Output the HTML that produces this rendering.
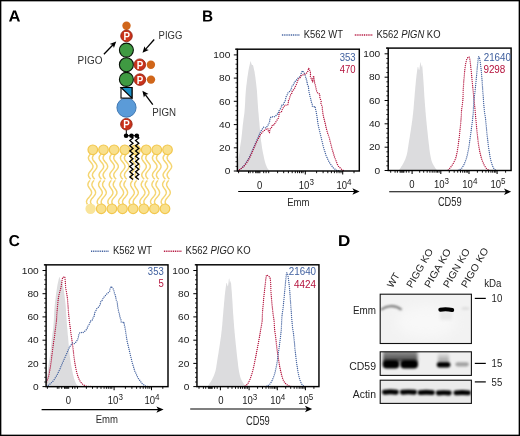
<!DOCTYPE html>
<html><head><meta charset="utf-8"><title>Figure</title>
<style>html,body{margin:0;padding:0;background:#fff;}body{width:520px;height:436px;overflow:hidden;font-family:"Liberation Sans",sans-serif;}svg{display:block;}</style></head>
<body>
<svg width="520" height="436" viewBox="0 0 520 436" font-family="Liberation Sans, sans-serif" style="opacity:0.999">
<rect x="0" y="0" width="520" height="436" fill="#fff"/>
<path transform="translate(8.592 21.6) scale(0.00801 -0.00781)" d="M1133 0 1008 360H471L346 0H51L565 1409H913L1425 0ZM739 1192 733 1170Q723 1134 709.0 1088.0Q695 1042 537 582H942L803 987L760 1123Z" fill="#000"/>
<path transform="translate(202.080 21.6) scale(0.00745 -0.00781)" d="M1386 402Q1386 210 1242.0 105.0Q1098 0 842 0H137V1409H782Q1040 1409 1172.5 1319.5Q1305 1230 1305 1055Q1305 935 1238.5 852.5Q1172 770 1036 741Q1207 721 1296.5 633.5Q1386 546 1386 402ZM1008 1015Q1008 1110 947.5 1150.0Q887 1190 768 1190H432V841H770Q895 841 951.5 884.5Q1008 928 1008 1015ZM1090 425Q1090 623 806 623H432V219H817Q959 219 1024.5 270.5Q1090 322 1090 425Z" fill="#000"/>
<path transform="translate(8.666 246.1) scale(0.00754 -0.00774)" d="M795 212Q1062 212 1166 480L1423 383Q1340 179 1179.5 79.5Q1019 -20 795 -20Q455 -20 269.5 172.5Q84 365 84 711Q84 1058 263.0 1244.0Q442 1430 782 1430Q1030 1430 1186.0 1330.5Q1342 1231 1405 1038L1145 967Q1112 1073 1015.5 1135.5Q919 1198 788 1198Q588 1198 484.5 1074.0Q381 950 381 711Q381 468 487.5 340.0Q594 212 795 212Z" fill="#000"/>
<path transform="translate(337.955 246.1) scale(0.00836 -0.00774)" d="M1393 715Q1393 497 1307.5 334.5Q1222 172 1065.5 86.0Q909 0 707 0H137V1409H647Q1003 1409 1198.0 1229.5Q1393 1050 1393 715ZM1096 715Q1096 942 978.0 1061.5Q860 1181 641 1181H432V228H682Q872 228 984.0 359.0Q1096 490 1096 715Z" fill="#000"/>
<g id="panelA">
<path d="M90.7 153.6 L89.9 154.6 L89.2 155.6 L88.7 156.6 L88.4 157.6 L88.5 158.5 L88.8 159.5 L89.4 160.5 L90.2 161.5 L91.0 162.5 L91.8 163.5 L92.4 164.5 L92.9 165.5 L93.0 166.5 L92.8 167.5 L92.4 168.4 L91.7 169.4 L91.0 170.4 L90.1 171.4 L89.4 172.4 L88.8 173.4 L88.5 174.4 L88.4 175.4 L88.7 176.4 L89.2 177.4 L89.9 178.3 L90.7 179.3" fill="none" stroke="#f5d571" stroke-width="1.45"/>
<path d="M94.7 153.6 L93.9 154.6 L93.2 155.6 L92.7 156.6 L92.4 157.6 L92.5 158.5 L92.8 159.5 L93.4 160.5 L94.2 161.5 L95.0 162.5 L95.8 163.5 L96.4 164.5 L96.9 165.5 L97.0 166.5 L96.8 167.5 L96.4 168.4 L95.7 169.4 L95.0 170.4 L94.1 171.4 L93.4 172.4 L92.8 173.4 L92.5 174.4 L92.4 175.4 L92.7 176.4 L93.2 177.4 L93.9 178.3 L94.7 179.3" fill="none" stroke="#f5d571" stroke-width="1.45"/>
<path d="M90.0 180.4 L89.2 181.4 L88.5 182.4 L88.1 183.4 L87.9 184.4 L88.0 185.4 L88.4 186.4 L88.9 187.4 L89.6 188.4 L90.3 189.4 L91.0 190.4 L91.4 191.4 L91.6 192.4 L91.5 193.4 L91.2 194.4 L90.5 195.4 L89.8 196.4 L88.9 197.4 L88.0 198.4 L87.3 199.4 L86.8 200.4 L86.5 201.4 L86.6 202.4 L86.9 203.4 L87.4 204.4" fill="none" stroke="#f5d571" stroke-width="1.45"/>
<path d="M94.0 180.4 L93.2 181.4 L92.5 182.4 L92.1 183.4 L91.9 184.4 L92.0 185.4 L92.4 186.4 L92.9 187.4 L93.6 188.4 L94.3 189.4 L95.0 190.4 L95.4 191.4 L95.6 192.4 L95.5 193.4 L95.2 194.4 L94.5 195.4 L93.8 196.4 L92.9 197.4 L92.0 198.4 L91.3 199.4 L90.8 200.4 L90.5 201.4 L90.6 202.4 L90.9 203.4 L91.4 204.4" fill="none" stroke="#f5d571" stroke-width="1.45"/>
<path d="M101.4 153.6 L100.6 154.6 L99.8 155.6 L99.3 156.6 L99.1 157.6 L99.1 158.5 L99.5 159.5 L100.1 160.5 L100.8 161.5 L101.7 162.5 L102.5 163.5 L103.1 164.5 L103.5 165.5 L103.7 166.5 L103.5 167.5 L103.1 168.4 L102.4 169.4 L101.6 170.4 L100.8 171.4 L100.0 172.4 L99.5 173.4 L99.1 174.4 L99.1 175.4 L99.4 176.4 L99.9 177.4 L100.6 178.3 L101.4 179.3" fill="none" stroke="#f5d571" stroke-width="1.45"/>
<path d="M105.4 153.6 L104.6 154.6 L103.8 155.6 L103.3 156.6 L103.1 157.6 L103.1 158.5 L103.5 159.5 L104.1 160.5 L104.8 161.5 L105.7 162.5 L106.5 163.5 L107.1 164.5 L107.5 165.5 L107.7 166.5 L107.5 167.5 L107.1 168.4 L106.4 169.4 L105.6 170.4 L104.8 171.4 L104.0 172.4 L103.5 173.4 L103.1 174.4 L103.1 175.4 L103.4 176.4 L103.9 177.4 L104.6 178.3 L105.4 179.3" fill="none" stroke="#f5d571" stroke-width="1.45"/>
<path d="M100.7 180.4 L99.8 181.4 L99.2 182.4 L98.7 183.4 L98.6 184.4 L98.7 185.4 L99.0 186.4 L99.6 187.4 L100.3 188.4 L101.0 189.4 L101.6 190.4 L102.1 191.4 L102.3 192.4 L102.2 193.4 L101.8 194.4 L101.2 195.4 L100.4 196.4 L99.6 197.4 L98.7 198.4 L98.0 199.4 L97.5 200.4 L97.2 201.4 L97.2 202.4 L97.5 203.4 L98.0 204.4" fill="none" stroke="#f5d571" stroke-width="1.45"/>
<path d="M104.7 180.4 L103.8 181.4 L103.2 182.4 L102.7 183.4 L102.6 184.4 L102.7 185.4 L103.0 186.4 L103.6 187.4 L104.3 188.4 L105.0 189.4 L105.6 190.4 L106.1 191.4 L106.3 192.4 L106.2 193.4 L105.8 194.4 L105.2 195.4 L104.4 196.4 L103.6 197.4 L102.7 198.4 L102.0 199.4 L101.5 200.4 L101.2 201.4 L101.2 202.4 L101.5 203.4 L102.0 204.4" fill="none" stroke="#f5d571" stroke-width="1.45"/>
<path d="M112.0 153.6 L111.2 154.6 L110.5 155.6 L110.0 156.6 L109.8 157.6 L109.8 158.5 L110.2 159.5 L110.7 160.5 L111.5 161.5 L112.3 162.5 L113.1 163.5 L113.8 164.5 L114.2 165.5 L114.3 166.5 L114.2 167.5 L113.7 168.4 L113.1 169.4 L112.3 170.4 L111.5 171.4 L110.7 172.4 L110.1 173.4 L109.8 174.4 L109.8 175.4 L110.0 176.4 L110.5 177.4 L111.3 178.3 L112.1 179.3" fill="none" stroke="#f5d571" stroke-width="1.45"/>
<path d="M116.0 153.6 L115.2 154.6 L114.5 155.6 L114.0 156.6 L113.8 157.6 L113.8 158.5 L114.2 159.5 L114.7 160.5 L115.5 161.5 L116.3 162.5 L117.1 163.5 L117.8 164.5 L118.2 165.5 L118.3 166.5 L118.2 167.5 L117.7 168.4 L117.1 169.4 L116.3 170.4 L115.5 171.4 L114.7 172.4 L114.1 173.4 L113.8 174.4 L113.8 175.4 L114.0 176.4 L114.5 177.4 L115.3 178.3 L116.1 179.3" fill="none" stroke="#f5d571" stroke-width="1.45"/>
<path d="M111.3 180.4 L110.5 181.4 L109.8 182.4 L109.4 183.4 L109.2 184.4 L109.3 185.4 L109.7 186.4 L110.3 187.4 L111.0 188.4 L111.7 189.4 L112.3 190.4 L112.8 191.4 L112.9 192.4 L112.9 193.4 L112.5 194.4 L111.9 195.4 L111.1 196.4 L110.2 197.4 L109.4 198.4 L108.6 199.4 L108.1 200.4 L107.9 201.4 L107.9 202.4 L108.2 203.4 L108.7 204.4" fill="none" stroke="#f5d571" stroke-width="1.45"/>
<path d="M115.3 180.4 L114.5 181.4 L113.8 182.4 L113.4 183.4 L113.2 184.4 L113.3 185.4 L113.7 186.4 L114.3 187.4 L115.0 188.4 L115.7 189.4 L116.3 190.4 L116.8 191.4 L116.9 192.4 L116.9 193.4 L116.5 194.4 L115.9 195.4 L115.1 196.4 L114.2 197.4 L113.4 198.4 L112.6 199.4 L112.1 200.4 L111.9 201.4 L111.9 202.4 L112.2 203.4 L112.7 204.4" fill="none" stroke="#f5d571" stroke-width="1.45"/>
<path d="M122.7 153.6 L121.9 154.6 L121.2 155.6 L120.7 156.6 L120.4 157.6 L120.5 158.5 L120.8 159.5 L121.4 160.5 L122.2 161.5 L123.0 162.5 L123.8 163.5 L124.4 164.5 L124.9 165.5 L125.0 166.5 L124.9 167.5 L124.4 168.4 L123.8 169.4 L123.0 170.4 L122.1 171.4 L121.4 172.4 L120.8 173.4 L120.5 174.4 L120.4 175.4 L120.7 176.4 L121.2 177.4 L121.9 178.3 L122.8 179.3" fill="none" stroke="#f5d571" stroke-width="1.45"/>
<path d="M126.7 153.6 L125.9 154.6 L125.2 155.6 L124.7 156.6 L124.4 157.6 L124.5 158.5 L124.8 159.5 L125.4 160.5 L126.2 161.5 L127.0 162.5 L127.8 163.5 L128.4 164.5 L128.9 165.5 L129.0 166.5 L128.9 167.5 L128.4 168.4 L127.8 169.4 L127.0 170.4 L126.1 171.4 L125.4 172.4 L124.8 173.4 L124.5 174.4 L124.4 175.4 L124.7 176.4 L125.2 177.4 L125.9 178.3 L126.8 179.3" fill="none" stroke="#f5d571" stroke-width="1.45"/>
<path d="M122.0 180.4 L121.2 181.4 L120.5 182.4 L120.1 183.4 L119.9 184.4 L120.0 185.4 L120.4 186.4 L121.0 187.4 L121.7 188.4 L122.4 189.4 L123.0 190.4 L123.4 191.4 L123.6 192.4 L123.5 193.4 L123.2 194.4 L122.5 195.4 L121.8 196.4 L120.9 197.4 L120.0 198.4 L119.3 199.4 L118.8 200.4 L118.5 201.4 L118.6 202.4 L118.9 203.4 L119.4 204.4" fill="none" stroke="#f5d571" stroke-width="1.45"/>
<path d="M126.0 180.4 L125.2 181.4 L124.5 182.4 L124.1 183.4 L123.9 184.4 L124.0 185.4 L124.4 186.4 L125.0 187.4 L125.7 188.4 L126.4 189.4 L127.0 190.4 L127.4 191.4 L127.6 192.4 L127.5 193.4 L127.2 194.4 L126.5 195.4 L125.8 196.4 L124.9 197.4 L124.0 198.4 L123.3 199.4 L122.8 200.4 L122.5 201.4 L122.6 202.4 L122.9 203.4 L123.4 204.4" fill="none" stroke="#f5d571" stroke-width="1.45"/>
<path d="M133.4 153.6 L132.6 154.6 L131.9 155.6 L131.3 156.6 L131.1 157.6 L131.1 158.5 L131.5 159.5 L132.1 160.5 L132.8 161.5 L133.7 162.5 L134.5 163.5 L135.1 164.5 L135.5 165.5 L135.7 166.5 L135.5 167.5 L135.1 168.4 L134.4 169.4 L133.6 170.4 L132.8 171.4 L132.0 172.4 L131.5 173.4 L131.1 174.4 L131.1 175.4 L131.4 176.4 L131.9 177.4 L132.6 178.3 L133.4 179.3" fill="none" stroke="#f5d571" stroke-width="1.45"/>
<path d="M137.4 153.6 L136.6 154.6 L135.9 155.6 L135.3 156.6 L135.1 157.6 L135.1 158.5 L135.5 159.5 L136.1 160.5 L136.8 161.5 L137.7 162.5 L138.5 163.5 L139.1 164.5 L139.5 165.5 L139.7 166.5 L139.5 167.5 L139.1 168.4 L138.4 169.4 L137.6 170.4 L136.8 171.4 L136.0 172.4 L135.5 173.4 L135.1 174.4 L135.1 175.4 L135.4 176.4 L135.9 177.4 L136.6 178.3 L137.4 179.3" fill="none" stroke="#f5d571" stroke-width="1.45"/>
<path d="M132.7 180.4 L131.9 181.4 L131.2 182.4 L130.7 183.4 L130.6 184.4 L130.7 185.4 L131.1 186.4 L131.6 187.4 L132.3 188.4 L133.0 189.4 L133.6 190.4 L134.1 191.4 L134.3 192.4 L134.2 193.4 L133.8 194.4 L133.2 195.4 L132.4 196.4 L131.6 197.4 L130.7 198.4 L130.0 199.4 L129.5 200.4 L129.2 201.4 L129.2 202.4 L129.5 203.4 L130.1 204.4" fill="none" stroke="#f5d571" stroke-width="1.45"/>
<path d="M136.7 180.4 L135.9 181.4 L135.2 182.4 L134.7 183.4 L134.6 184.4 L134.7 185.4 L135.1 186.4 L135.6 187.4 L136.3 188.4 L137.0 189.4 L137.6 190.4 L138.1 191.4 L138.3 192.4 L138.2 193.4 L137.8 194.4 L137.2 195.4 L136.4 196.4 L135.6 197.4 L134.7 198.4 L134.0 199.4 L133.5 200.4 L133.2 201.4 L133.2 202.4 L133.5 203.4 L134.1 204.4" fill="none" stroke="#f5d571" stroke-width="1.45"/>
<path d="M144.1 153.6 L143.2 154.6 L142.5 155.6 L142.0 156.6 L141.8 157.6 L141.8 158.5 L142.2 159.5 L142.8 160.5 L143.5 161.5 L144.3 162.5 L145.1 163.5 L145.8 164.5 L146.2 165.5 L146.3 166.5 L146.2 167.5 L145.8 168.4 L145.1 169.4 L144.3 170.4 L143.5 171.4 L142.7 172.4 L142.1 173.4 L141.8 174.4 L141.8 175.4 L142.0 176.4 L142.6 177.4 L143.3 178.3 L144.1 179.3" fill="none" stroke="#f5d571" stroke-width="1.45"/>
<path d="M148.1 153.6 L147.2 154.6 L146.5 155.6 L146.0 156.6 L145.8 157.6 L145.8 158.5 L146.2 159.5 L146.8 160.5 L147.5 161.5 L148.3 162.5 L149.1 163.5 L149.8 164.5 L150.2 165.5 L150.3 166.5 L150.2 167.5 L149.8 168.4 L149.1 169.4 L148.3 170.4 L147.5 171.4 L146.7 172.4 L146.1 173.4 L145.8 174.4 L145.8 175.4 L146.0 176.4 L146.6 177.4 L147.3 178.3 L148.1 179.3" fill="none" stroke="#f5d571" stroke-width="1.45"/>
<path d="M143.4 180.4 L142.5 181.4 L141.9 182.4 L141.4 183.4 L141.2 184.4 L141.3 185.4 L141.7 186.4 L142.3 187.4 L143.0 188.4 L143.7 189.4 L144.3 190.4 L144.8 191.4 L145.0 192.4 L144.9 193.4 L144.5 194.4 L143.9 195.4 L143.1 196.4 L142.2 197.4 L141.4 198.4 L140.7 199.4 L140.1 200.4 L139.9 201.4 L139.9 202.4 L140.2 203.4 L140.7 204.4" fill="none" stroke="#f5d571" stroke-width="1.45"/>
<path d="M147.4 180.4 L146.5 181.4 L145.9 182.4 L145.4 183.4 L145.2 184.4 L145.3 185.4 L145.7 186.4 L146.3 187.4 L147.0 188.4 L147.7 189.4 L148.3 190.4 L148.8 191.4 L149.0 192.4 L148.9 193.4 L148.5 194.4 L147.9 195.4 L147.1 196.4 L146.2 197.4 L145.4 198.4 L144.7 199.4 L144.1 200.4 L143.9 201.4 L143.9 202.4 L144.2 203.4 L144.7 204.4" fill="none" stroke="#f5d571" stroke-width="1.45"/>
<path d="M154.7 153.6 L153.9 154.6 L153.2 155.6 L152.7 156.6 L152.4 157.6 L152.5 158.5 L152.8 159.5 L153.4 160.5 L154.2 161.5 L155.0 162.5 L155.8 163.5 L156.5 164.5 L156.9 165.5 L157.0 166.5 L156.9 167.5 L156.4 168.4 L155.8 169.4 L155.0 170.4 L154.1 171.4 L153.4 172.4 L152.8 173.4 L152.5 174.4 L152.4 175.4 L152.7 176.4 L153.2 177.4 L153.9 178.3 L154.8 179.3" fill="none" stroke="#f5d571" stroke-width="1.45"/>
<path d="M158.7 153.6 L157.9 154.6 L157.2 155.6 L156.7 156.6 L156.4 157.6 L156.5 158.5 L156.8 159.5 L157.4 160.5 L158.2 161.5 L159.0 162.5 L159.8 163.5 L160.5 164.5 L160.9 165.5 L161.0 166.5 L160.9 167.5 L160.4 168.4 L159.8 169.4 L159.0 170.4 L158.1 171.4 L157.4 172.4 L156.8 173.4 L156.5 174.4 L156.4 175.4 L156.7 176.4 L157.2 177.4 L157.9 178.3 L158.8 179.3" fill="none" stroke="#f5d571" stroke-width="1.45"/>
<path d="M154.0 180.4 L153.2 181.4 L152.5 182.4 L152.1 183.4 L151.9 184.4 L152.0 185.4 L152.4 186.4 L153.0 187.4 L153.7 188.4 L154.4 189.4 L155.0 190.4 L155.4 191.4 L155.6 192.4 L155.5 193.4 L155.2 194.4 L154.6 195.4 L153.8 196.4 L152.9 197.4 L152.1 198.4 L151.3 199.4 L150.8 200.4 L150.5 201.4 L150.6 202.4 L150.9 203.4 L151.4 204.4" fill="none" stroke="#f5d571" stroke-width="1.45"/>
<path d="M158.0 180.4 L157.2 181.4 L156.5 182.4 L156.1 183.4 L155.9 184.4 L156.0 185.4 L156.4 186.4 L157.0 187.4 L157.7 188.4 L158.4 189.4 L159.0 190.4 L159.4 191.4 L159.6 192.4 L159.5 193.4 L159.2 194.4 L158.6 195.4 L157.8 196.4 L156.9 197.4 L156.1 198.4 L155.3 199.4 L154.8 200.4 L154.5 201.4 L154.6 202.4 L154.9 203.4 L155.4 204.4" fill="none" stroke="#f5d571" stroke-width="1.45"/>
<path d="M165.4 153.6 L164.6 154.6 L163.9 155.6 L163.4 156.6 L163.1 157.6 L163.2 158.5 L163.5 159.5 L164.1 160.5 L164.9 161.5 L165.7 162.5 L166.5 163.5 L167.1 164.5 L167.5 165.5 L167.7 166.5 L167.5 167.5 L167.1 168.4 L166.4 169.4 L165.6 170.4 L164.8 171.4 L164.1 172.4 L163.5 173.4 L163.1 174.4 L163.1 175.4 L163.4 176.4 L163.9 177.4 L164.6 178.3 L165.4 179.3" fill="none" stroke="#f5d571" stroke-width="1.45"/>
<path d="M169.4 153.6 L168.6 154.6 L167.9 155.6 L167.4 156.6 L167.1 157.6 L167.2 158.5 L167.5 159.5 L168.1 160.5 L168.9 161.5 L169.7 162.5 L170.5 163.5 L171.1 164.5 L171.5 165.5 L171.7 166.5 L171.5 167.5 L171.1 168.4 L170.4 169.4 L169.6 170.4 L168.8 171.4 L168.1 172.4 L167.5 173.4 L167.1 174.4 L167.1 175.4 L167.4 176.4 L167.9 177.4 L168.6 178.3 L169.4 179.3" fill="none" stroke="#f5d571" stroke-width="1.45"/>
<path d="M164.7 180.4 L163.9 181.4 L163.2 182.4 L162.7 183.4 L162.6 184.4 L162.7 185.4 L163.1 186.4 L163.6 187.4 L164.3 188.4 L165.0 189.4 L165.7 190.4 L166.1 191.4 L166.3 192.4 L166.2 193.4 L165.8 194.4 L165.2 195.4 L164.4 196.4 L163.6 197.4 L162.7 198.4 L162.0 199.4 L161.5 200.4 L161.2 201.4 L161.2 202.4 L161.5 203.4 L162.1 204.4" fill="none" stroke="#f5d571" stroke-width="1.45"/>
<path d="M168.7 180.4 L167.9 181.4 L167.2 182.4 L166.7 183.4 L166.6 184.4 L166.7 185.4 L167.1 186.4 L167.6 187.4 L168.3 188.4 L169.0 189.4 L169.7 190.4 L170.1 191.4 L170.3 192.4 L170.2 193.4 L169.8 194.4 L169.2 195.4 L168.4 196.4 L167.6 197.4 L166.7 198.4 L166.0 199.4 L165.5 200.4 L165.2 201.4 L165.2 202.4 L165.5 203.4 L166.1 204.4" fill="none" stroke="#f5d571" stroke-width="1.45"/>
<circle cx="92.8" cy="149.8" r="4.8" fill="#f9e08c" stroke="#f2c74e" stroke-width="1.2"/>
<circle cx="103.5" cy="149.8" r="4.8" fill="#f9e08c" stroke="#f2c74e" stroke-width="1.2"/>
<circle cx="114.1" cy="149.8" r="4.8" fill="#f9e08c" stroke="#f2c74e" stroke-width="1.2"/>
<circle cx="124.8" cy="149.8" r="4.8" fill="#f9e08c" stroke="#f2c74e" stroke-width="1.2"/>
<circle cx="135.5" cy="149.8" r="4.8" fill="#f9e08c" stroke="#f2c74e" stroke-width="1.2"/>
<circle cx="146.2" cy="149.8" r="4.8" fill="#f9e08c" stroke="#f2c74e" stroke-width="1.2"/>
<circle cx="156.8" cy="149.8" r="4.8" fill="#f9e08c" stroke="#f2c74e" stroke-width="1.2"/>
<circle cx="167.5" cy="149.8" r="4.8" fill="#f9e08c" stroke="#f2c74e" stroke-width="1.2"/>
<circle cx="90.6" cy="208.8" r="5.2" fill="#f9e49a"/>
<circle cx="101.2" cy="208.8" r="4.8" fill="#f9e08c" stroke="#f2c74e" stroke-width="1.2"/>
<circle cx="111.9" cy="208.8" r="4.8" fill="#f9e08c" stroke="#f2c74e" stroke-width="1.2"/>
<circle cx="122.5" cy="208.8" r="4.8" fill="#f9e08c" stroke="#f2c74e" stroke-width="1.2"/>
<circle cx="133.1" cy="208.8" r="4.8" fill="#f9e08c" stroke="#f2c74e" stroke-width="1.2"/>
<circle cx="143.8" cy="208.8" r="4.8" fill="#f9e08c" stroke="#f2c74e" stroke-width="1.2"/>
<circle cx="154.4" cy="208.8" r="4.8" fill="#f9e08c" stroke="#f2c74e" stroke-width="1.2"/>
<circle cx="165.0" cy="208.8" r="4.8" fill="#f9e08c" stroke="#f2c74e" stroke-width="1.2"/>
<path d="M126.3 129 V135.7 H136.8" fill="none" stroke="#000" stroke-width="1"/>
<path d="M131.4 136.0 L133.0 138.0 L129.8 140.6 L133.0 143.2 L129.8 145.8 L133.0 148.4 L129.8 151.0 L133.0 153.6 L129.8 156.2 L133.0 158.8 L129.8 161.4 L133.0 164.0 L129.8 166.6 L133.0 169.2 L129.8 171.8 L133.0 174.4 L129.8 177.0 L133.0 179.6" fill="none" stroke="#000" stroke-width="1.3" stroke-linejoin="miter"/>
<path d="M137.2 136.0 L138.8 138.0 L135.6 140.6 L138.8 143.2 L135.6 145.8 L138.8 148.4 L135.6 151.0 L138.8 153.6 L135.6 156.2 L138.8 158.8 L135.6 161.4 L138.8 164.0 L135.6 166.6 L138.8 169.2 L135.6 171.8 L138.8 174.4 L135.6 177.0 L138.8 179.6" fill="none" stroke="#000" stroke-width="1.3" stroke-linejoin="miter"/>
<circle cx="126.1" cy="135.7" r="2.3" fill="#000"/>
<circle cx="131.5" cy="135.7" r="2.3" fill="#000"/>
<circle cx="136.8" cy="135.7" r="2.3" fill="#000"/>
<circle cx="126.5" cy="25.8" r="4.2" fill="#d0661a"/>
<circle cx="126.5" cy="107.6" r="9.6" fill="#5b9bd8" stroke="#3a72ad" stroke-width="0.9"/>
<circle cx="126.4" cy="124.2" r="5.8" fill="#c9321b" stroke="#8e1f10" stroke-width="0.8"/>
<text x="123.3" y="128.2" font-size="10.8" font-weight="bold" fill="#fff" textLength="6.5" lengthAdjust="spacingAndGlyphs">P</text>
<rect x="121" y="87.5" width="11" height="10.6" fill="#fff" stroke="#000" stroke-width="1.1"/>
<path d="M121 87.5 H132 V98.1 Z" fill="#1b8fc6" stroke="#000" stroke-width="1.1" stroke-linejoin="miter"/>
<circle cx="126.4" cy="79.4" r="7" fill="#3f9a42" stroke="#0a140a" stroke-width="1.1"/>
<circle cx="126.4" cy="64.7" r="7" fill="#3f9a42" stroke="#0a140a" stroke-width="1.1"/>
<circle cx="126.4" cy="50.1" r="7" fill="#3f9a42" stroke="#0a140a" stroke-width="1.1"/>
<circle cx="126.5" cy="35.9" r="5.8" fill="#c9321b" stroke="#8e1f10" stroke-width="0.8"/>
<text x="123.4" y="39.9" font-size="10.8" font-weight="bold" fill="#fff" textLength="6.5" lengthAdjust="spacingAndGlyphs">P</text>
<circle cx="139.8" cy="64.7" r="5.8" fill="#c9321b" stroke="#8e1f10" stroke-width="0.8"/>
<text x="136.7" y="68.7" font-size="10.8" font-weight="bold" fill="#fff" textLength="6.5" lengthAdjust="spacingAndGlyphs">P</text>
<circle cx="139.9" cy="79.6" r="5.8" fill="#c9321b" stroke="#8e1f10" stroke-width="0.8"/>
<text x="136.8" y="83.6" font-size="10.8" font-weight="bold" fill="#fff" textLength="6.5" lengthAdjust="spacingAndGlyphs">P</text>
<circle cx="150.9" cy="64.7" r="4.2" fill="#d0661a"/>
<circle cx="151" cy="79.6" r="4.2" fill="#d0661a"/>
<path d="M103.9 54.3 L112.8 45.0" stroke="#000" stroke-width="1.3" fill="none"/>
<path d="M116.2 41.5 L113.9 48.1 L112.8 45.0 L109.7 44.0 Z" fill="#000"/>
<path d="M154.2 39.5 L145.7 49.1" stroke="#000" stroke-width="1.3" fill="none"/>
<path d="M142.5 52.8 L144.5 46.2 L145.7 49.1 L148.8 50.0 Z" fill="#000"/>
<path d="M152.8 104.6 L145.3 94.7" stroke="#000" stroke-width="1.3" fill="none"/>
<path d="M142.4 90.8 L148.5 94.1 L145.3 94.7 L143.9 97.6 Z" fill="#000"/>
<text x="77.6" y="63.8" font-size="10.3" fill="#333" textLength="24.9" lengthAdjust="spacingAndGlyphs">PIGO</text>
<text x="158.6" y="38.8" font-size="10.3" fill="#333" textLength="23.8" lengthAdjust="spacingAndGlyphs">PIGG</text>
<text x="152.3" y="116.1" font-size="10.3" fill="#333" textLength="23.8" lengthAdjust="spacingAndGlyphs">PIGN</text>
</g>
<g id="Bleft">
<polygon points="237.5,170.8 237.5,170.4 237.6,169.7 237.6,169.0 237.7,168.2 237.7,167.4 237.8,166.5 237.9,165.6 238.0,164.7 238.1,163.7 238.2,162.6 238.3,161.6 238.4,160.5 238.5,159.4 238.6,158.3 238.8,157.1 238.9,155.9 239.0,154.7 239.2,153.5 239.4,152.2 239.5,150.9 239.7,149.6 239.9,148.2 240.1,146.8 240.3,145.5 240.5,144.2 240.7,143.1 240.9,141.9 241.1,140.6 241.3,139.2 241.5,137.5 241.7,135.5 242.0,133.2 242.2,130.8 242.5,128.3 242.7,125.8 243.0,123.5 243.3,121.3 243.5,119.3 243.8,117.2 244.1,115.2 244.4,112.9 244.6,110.5 244.8,107.7 245.0,104.6 245.2,101.4 245.3,98.2 245.5,95.2 245.7,92.5 245.9,90.1 246.1,87.9 246.3,85.9 246.6,84.1 246.8,82.3 247.0,80.5 247.2,78.8 247.4,77.2 247.7,75.6 247.9,74.2 248.1,72.8 248.3,71.5 248.5,70.3 248.7,69.2 248.9,68.2 249.1,67.2 249.3,66.3 249.5,65.5 249.7,64.7 249.8,64.0 250.0,63.4 250.1,62.9 250.2,62.4 250.3,62.0 250.4,61.7 250.5,61.5 250.5,61.3 250.6,61.2 250.6,61.2 250.7,61.3 250.8,61.5 250.9,61.8 251.0,62.3 251.1,62.7 251.2,63.1 251.3,63.5 251.4,63.8 251.5,64.1 251.6,64.4 251.8,64.6 251.9,64.8 252.0,65.0 252.1,65.1 252.3,65.0 252.4,64.9 252.5,64.9 252.7,64.9 252.8,65.0 252.9,65.2 253.0,65.4 253.2,65.8 253.3,66.2 253.4,66.7 253.6,67.5 253.8,68.4 254.0,69.5 254.3,70.7 254.6,72.1 254.8,73.7 255.1,75.5 255.4,77.6 255.7,79.9 256.0,82.4 256.3,85.0 256.6,87.7 256.9,90.5 257.1,93.3 257.3,96.4 257.5,99.4 257.7,102.5 257.9,105.6 258.1,108.5 258.3,111.3 258.6,114.1 258.8,116.8 259.0,119.5 259.3,122.0 259.5,124.5 259.7,126.9 259.9,129.2 260.1,131.4 260.3,133.5 260.5,135.5 260.7,137.5 260.9,139.4 261.1,141.2 261.4,142.9 261.6,144.6 261.8,146.1 262.0,147.5 262.2,148.7 262.4,149.7 262.5,150.6 262.7,151.5 262.9,152.4 263.1,153.5 263.4,154.8 263.7,156.3 264.0,157.8 264.3,159.3 264.7,160.7 265.0,162.0 265.3,163.1 265.7,164.2 266.0,165.1 266.4,166.0 266.7,166.8 267.0,167.5 267.3,168.1 267.6,168.6 267.9,168.9 268.1,169.2 268.4,169.5 268.7,169.8 269.0,170.1 269.4,170.3 269.7,170.4 270.0,170.6 270.3,170.7 270.5,170.8" fill="#dcdcde"/>
<polyline points="237.8,170.7 239.4,169.7 241.0,168.6 242.1,167.5 243.3,166.3 244.4,165.2 245.3,163.8 246.3,162.3 247.2,160.8 248.2,159.4 248.9,158.0 249.6,156.5 250.3,155.0 251.0,153.6 251.6,152.2 252.2,150.8 252.8,149.3 253.4,147.9 254.0,146.5 254.7,145.1 255.3,143.7 255.9,142.3 256.6,140.7 257.3,139.2 258.0,137.6 258.6,136.2 259.0,134.9 259.9,133.5 260.7,131.1 262.0,129.9 262.6,128.7 263.5,127.2 265.8,128.0 267.5,125.9 268.8,123.9 269.4,121.6 269.8,120.9 269.7,119.8 270.6,117.4 272.0,116.6 273.5,117.2 275.1,116.4 276.8,114.6 278.3,113.2 278.7,111.1 279.6,109.9 280.7,108.3 281.2,106.9 281.4,105.4 283.2,105.0 284.1,102.7 284.6,101.6 285.2,100.7 285.6,98.9 286.0,96.9 287.0,95.2 287.9,93.0 288.4,92.4 290.3,91.0 291.2,89.4 291.6,87.4 292.3,85.2 293.5,84.7 294.5,81.9 296.0,80.8 296.7,79.7 298.3,77.9 299.9,76.6 300.8,75.7 301.2,73.4 302.4,70.7 303.6,72.2 304.7,73.8 305.4,76.0 305.6,77.3 306.2,78.2 306.5,80.8 307.4,81.1 307.0,83.1 307.8,85.4 308.6,86.8 308.6,88.2 308.8,89.9 308.9,91.8 309.4,93.2 309.8,95.5 310.2,97.1 310.7,98.7 310.9,98.8 311.0,100.9 311.9,103.5 312.4,104.6 312.4,106.2 313.6,106.9 315.0,106.2 315.3,107.8 315.6,109.3 316.0,110.9 316.3,112.4 316.6,114.2 316.9,115.9 317.1,117.7 317.4,119.4 317.6,121.0 317.9,122.7 318.1,124.3 318.4,125.9 318.8,127.6 319.2,129.2 319.6,130.9 320.0,132.6 320.4,134.2 320.8,135.9 321.2,137.5 321.5,139.0 321.9,140.6 322.3,142.1 322.7,143.7 323.0,145.2 323.4,146.8 323.9,148.5 324.4,150.2 325.0,152.0 325.5,153.7 326.0,155.4 326.7,156.8 327.4,158.3 328.0,159.7 328.7,161.2 329.4,162.6 330.5,164.0 331.5,165.5 332.6,166.9 333.7,168.3 335.4,169.5 337.1,170.6 338.8,170.7 340.4,170.8" fill="none" stroke="#40609f" stroke-width="1.35" stroke-dasharray="0.01 2.05" stroke-linecap="round" stroke-linejoin="round"/>
<polyline points="237.8,170.7 239.7,169.6 241.5,168.4 242.7,167.3 243.8,166.3 245.0,165.2 245.9,163.9 246.8,162.6 247.7,161.2 248.6,159.9 249.3,158.4 250.1,156.9 250.8,155.4 251.5,153.9 252.1,152.4 252.8,150.9 253.4,149.4 254.0,147.9 254.6,146.5 255.2,145.2 255.8,143.8 256.4,142.4 257.4,140.4 258.4,138.4 259.9,135.9 260.9,133.7 262.3,132.7 263.5,130.9 264.5,130.3 265.5,129.5 267.9,128.7 268.2,130.7 269.5,132.7 269.6,131.0 270.2,128.8 271.2,128.5 271.9,126.3 272.6,124.7 274.2,125.0 275.1,123.1 276.2,121.3 277.7,119.0 278.3,118.2 279.0,115.9 279.0,114.4 279.9,112.4 281.5,111.8 282.2,109.6 282.8,108.8 283.5,107.1 284.6,105.6 286.4,105.0 287.8,104.8 288.3,102.4 288.1,101.1 289.2,99.9 289.4,98.4 289.8,97.0 290.6,94.8 291.6,94.0 291.9,92.0 292.7,90.5 294.1,89.4 295.1,87.1 295.9,85.3 296.8,83.6 296.8,83.4 297.5,81.5 297.9,80.1 298.6,79.0 300.2,77.4 300.7,75.9 303.1,74.8 304.7,74.3 307.1,72.7 307.8,71.3 308.3,69.4 308.7,67.9 309.9,70.7 310.3,71.9 310.5,74.0 310.2,75.9 311.1,78.2 311.1,79.1 312.2,80.3 312.7,82.3 312.9,81.0 312.8,79.0 313.3,76.8 314.0,75.9 313.7,78.0 314.0,78.6 314.5,81.4 314.4,82.2 315.1,83.9 315.6,86.4 316.2,88.2 316.1,89.2 316.7,91.2 317.7,93.1 319.1,93.6 320.0,94.6 319.6,96.3 320.1,98.4 320.8,100.0 321.2,101.2 320.8,103.1 321.5,104.9 322.4,106.7 322.1,108.0 322.4,109.6 322.7,111.5 322.9,113.5 323.2,115.4 323.6,116.9 324.0,118.4 324.3,119.8 324.7,121.3 325.1,122.8 325.4,124.3 325.8,125.9 326.1,127.4 326.5,129.0 326.8,130.5 327.3,132.0 327.8,133.6 328.4,135.1 328.9,136.7 329.4,138.2 329.8,139.7 330.1,141.2 330.5,142.7 330.9,144.1 331.3,145.6 331.6,147.1 332.0,148.6 332.5,150.3 333.0,152.0 333.6,153.8 334.1,155.5 334.6,157.2 335.2,158.6 335.7,160.1 336.3,161.5 336.9,162.9 337.4,164.4 338.0,165.8 339.1,166.9 340.3,168.1 341.4,169.2 343.7,170.7" fill="none" stroke="#b4123c" stroke-width="1.35" stroke-dasharray="0.01 2.05" stroke-linecap="round" stroke-linejoin="round"/>
<rect x="237.4" y="49.2" width="121.9" height="121.8" fill="none" stroke="#000" stroke-width="1.45"/>
<path d="M235.2 49.2 H237.4" stroke="#000" stroke-width="1.45"/>
<path d="M233.8 171.0 H237.4" stroke="#000" stroke-width="1"/>
<text x="224.65" y="174.30" font-size="9.8" fill="#1a1a1a" textLength="5.65" lengthAdjust="spacingAndGlyphs">0</text>
<path d="M235.5 166.4 H237.4" stroke="#000" stroke-width="0.8"/>
<path d="M235.5 161.7 H237.4" stroke="#000" stroke-width="0.8"/>
<path d="M235.5 157.1 H237.4" stroke="#000" stroke-width="0.8"/>
<path d="M235.5 152.4 H237.4" stroke="#000" stroke-width="0.8"/>
<path d="M233.8 147.8 H237.4" stroke="#000" stroke-width="1"/>
<text x="219.00" y="151.08" font-size="9.8" fill="#1a1a1a" textLength="11.30" lengthAdjust="spacingAndGlyphs">20</text>
<path d="M235.5 143.1 H237.4" stroke="#000" stroke-width="0.8"/>
<path d="M235.5 138.5 H237.4" stroke="#000" stroke-width="0.8"/>
<path d="M235.5 133.8 H237.4" stroke="#000" stroke-width="0.8"/>
<path d="M235.5 129.2 H237.4" stroke="#000" stroke-width="0.8"/>
<path d="M233.8 124.6 H237.4" stroke="#000" stroke-width="1"/>
<text x="219.00" y="127.86" font-size="9.8" fill="#1a1a1a" textLength="11.30" lengthAdjust="spacingAndGlyphs">40</text>
<path d="M235.5 119.9 H237.4" stroke="#000" stroke-width="0.8"/>
<path d="M235.5 115.3 H237.4" stroke="#000" stroke-width="0.8"/>
<path d="M235.5 110.6 H237.4" stroke="#000" stroke-width="0.8"/>
<path d="M235.5 106.0 H237.4" stroke="#000" stroke-width="0.8"/>
<path d="M233.8 101.3 H237.4" stroke="#000" stroke-width="1"/>
<text x="219.00" y="104.64" font-size="9.8" fill="#1a1a1a" textLength="11.30" lengthAdjust="spacingAndGlyphs">60</text>
<path d="M235.5 96.7 H237.4" stroke="#000" stroke-width="0.8"/>
<path d="M235.5 92.1 H237.4" stroke="#000" stroke-width="0.8"/>
<path d="M235.5 87.4 H237.4" stroke="#000" stroke-width="0.8"/>
<path d="M235.5 82.8 H237.4" stroke="#000" stroke-width="0.8"/>
<path d="M233.8 78.1 H237.4" stroke="#000" stroke-width="1"/>
<text x="219.00" y="81.42" font-size="9.8" fill="#1a1a1a" textLength="11.30" lengthAdjust="spacingAndGlyphs">80</text>
<path d="M235.5 73.5 H237.4" stroke="#000" stroke-width="0.8"/>
<path d="M235.5 68.8 H237.4" stroke="#000" stroke-width="0.8"/>
<path d="M235.5 64.2 H237.4" stroke="#000" stroke-width="0.8"/>
<path d="M235.5 59.5 H237.4" stroke="#000" stroke-width="0.8"/>
<path d="M233.8 54.9 H237.4" stroke="#000" stroke-width="1"/>
<text x="213.35" y="58.20" font-size="9.8" fill="#1a1a1a" textLength="16.95" lengthAdjust="spacingAndGlyphs">100</text>
<path d="M305.3 171.0 V174.6" stroke="#000" stroke-width="1.05"/>
<path d="M342.7 171.0 V174.6" stroke="#000" stroke-width="1.05"/>
<path d="M238.6 171.0 V173.2" stroke="#000" stroke-width="0.95"/>
<path d="M248.5 171.0 V173.2" stroke="#000" stroke-width="0.95"/>
<path d="M250.1 171.0 V173.2" stroke="#000" stroke-width="0.95"/>
<path d="M252.9 171.0 V173.2" stroke="#000" stroke-width="0.95"/>
<path d="M255.7 171.0 V173.2" stroke="#000" stroke-width="0.95"/>
<path d="M256.9 171.0 V173.2" stroke="#000" stroke-width="0.95"/>
<path d="M257.9 171.0 V173.2" stroke="#000" stroke-width="0.95"/>
<path d="M258.9 171.0 V173.2" stroke="#000" stroke-width="0.95"/>
<path d="M259.9 171.0 V173.2" stroke="#000" stroke-width="0.95"/>
<path d="M263.7 171.0 V173.2" stroke="#000" stroke-width="0.95"/>
<path d="M266.1 171.0 V173.2" stroke="#000" stroke-width="0.95"/>
<path d="M268.7 171.0 V173.2" stroke="#000" stroke-width="0.95"/>
<path d="M277.6 171.0 V173.2" stroke="#000" stroke-width="0.95"/>
<path d="M283.7 171.0 V173.2" stroke="#000" stroke-width="0.95"/>
<path d="M288.4 171.0 V173.2" stroke="#000" stroke-width="0.95"/>
<path d="M292.2 171.0 V173.2" stroke="#000" stroke-width="0.95"/>
<path d="M295.3 171.0 V173.2" stroke="#000" stroke-width="0.95"/>
<path d="M297.6 171.0 V173.2" stroke="#000" stroke-width="0.95"/>
<path d="M299.5 171.0 V173.2" stroke="#000" stroke-width="0.95"/>
<path d="M301.4 171.0 V173.2" stroke="#000" stroke-width="0.95"/>
<path d="M303.0 171.0 V173.2" stroke="#000" stroke-width="0.95"/>
<path d="M316.6 171.0 V173.2" stroke="#000" stroke-width="0.95"/>
<path d="M323.1 171.0 V173.2" stroke="#000" stroke-width="0.95"/>
<path d="M327.8 171.0 V173.2" stroke="#000" stroke-width="0.95"/>
<path d="M331.4 171.0 V173.2" stroke="#000" stroke-width="0.95"/>
<path d="M334.4 171.0 V173.2" stroke="#000" stroke-width="0.95"/>
<path d="M336.9 171.0 V173.2" stroke="#000" stroke-width="0.95"/>
<path d="M339.1 171.0 V173.2" stroke="#000" stroke-width="0.95"/>
<path d="M341.0 171.0 V173.2" stroke="#000" stroke-width="0.95"/>
<path d="M354.0 171.0 V173.2" stroke="#000" stroke-width="0.95"/>
<text x="256.95" y="188.50" font-size="10.4" fill="#1a1a1a" textLength="5.30" lengthAdjust="spacingAndGlyphs">0</text>
<text x="298.80" y="188.50" font-size="10.4" fill="#1a1a1a" textLength="10.60" lengthAdjust="spacingAndGlyphs">10</text>
<text x="309.40" y="184.80" font-size="8.3" fill="#1a1a1a" textLength="4.50" lengthAdjust="spacingAndGlyphs">3</text>
<text x="336.50" y="188.50" font-size="10.4" fill="#1a1a1a" textLength="10.60" lengthAdjust="spacingAndGlyphs">10</text>
<text x="347.10" y="184.80" font-size="8.3" fill="#1a1a1a" textLength="4.50" lengthAdjust="spacingAndGlyphs">4</text>
<path d="M238.2 191.5 H356.6" stroke="#000" stroke-width="1.1"/>
<path d="M359.6 191.5 L352.4 188.3 L354.2 191.5 L352.4 194.7 Z" fill="#000"/>
<text x="287.2" y="205.8" font-size="11.6" fill="#2a2a2a" textLength="22.3" lengthAdjust="spacingAndGlyphs">Emm</text>
<text x="339.67" y="60.70" font-size="10.5" fill="#40609f" textLength="15.90" lengthAdjust="spacingAndGlyphs">353</text>
<text x="339.67" y="73.30" font-size="10.5" fill="#b4123c" textLength="15.90" lengthAdjust="spacingAndGlyphs">470</text>
</g>
<g id="Bright">
<polygon points="398.0,170.3 398.1,170.3 398.3,170.3 398.4,170.3 398.7,170.1 399.0,169.9 399.4,169.4 399.9,168.7 400.6,167.7 401.3,166.6 402.1,165.5 402.8,164.2 403.5,163.0 404.1,161.8 404.7,160.6 405.2,159.4 405.7,158.1 406.2,156.6 406.7,155.0 407.1,153.2 407.5,151.2 407.8,149.1 408.2,146.8 408.5,144.5 408.9,142.1 409.3,139.5 409.8,136.7 410.2,133.7 410.7,130.9 411.1,128.3 411.4,126.1 411.7,124.4 411.8,123.1 412.0,122.1 412.1,121.2 412.3,120.2 412.4,119.0 412.6,117.6 412.7,116.2 412.9,114.8 413.1,113.3 413.2,111.7 413.4,110.0 413.6,108.2 413.7,106.4 413.9,104.5 414.0,102.6 414.2,100.4 414.4,98.2 414.6,95.7 414.8,93.0 415.1,90.2 415.3,87.3 415.6,84.6 415.8,82.1 416.0,79.7 416.3,77.4 416.5,75.2 416.8,73.2 417.0,71.5 417.2,70.0 417.4,68.9 417.5,68.0 417.6,67.4 417.7,67.1 417.9,66.9 418.0,66.8 418.2,67.1 418.4,67.8 418.6,68.7 418.8,69.5 419.0,70.0 419.2,70.0 419.4,69.2 419.6,67.7 419.8,66.0 420.0,64.3 420.2,62.9 420.4,62.2 420.6,62.3 420.7,63.1 420.9,64.2 421.0,65.4 421.2,66.4 421.3,67.0 421.4,66.9 421.6,66.3 421.7,65.5 421.9,64.9 422.0,64.8 422.2,65.5 422.4,67.2 422.6,69.7 422.8,72.7 423.1,75.9 423.3,79.2 423.5,82.1 423.7,84.9 423.9,87.7 424.0,90.5 424.2,93.2 424.3,95.8 424.5,98.2 424.7,100.4 424.8,102.6 425.0,104.5 425.1,106.4 425.3,108.2 425.4,110.0 425.5,111.7 425.7,113.3 425.8,114.8 425.9,116.2 426.1,117.6 426.2,119.0 426.3,120.2 426.4,121.2 426.5,122.1 426.6,123.1 426.7,124.4 426.9,126.1 427.1,128.3 427.4,130.9 427.7,133.7 428.0,136.7 428.3,139.5 428.6,142.1 428.9,144.5 429.2,146.8 429.4,149.0 429.7,151.2 430.0,153.2 430.3,155.0 430.6,156.6 430.9,158.1 431.2,159.4 431.5,160.6 431.9,161.8 432.4,163.0 433.0,164.2 433.7,165.5 434.4,166.6 435.1,167.7 435.8,168.7 436.4,169.4 436.9,169.9 437.3,170.1 437.7,170.3 438.0,170.3 438.3,170.3 438.5,170.3" fill="#dcdcde"/>
<polyline points="448.3,169.9 449.1,169.0 450.3,167.6 451.6,166.0 452.8,164.2 453.8,162.4 454.8,160.4 455.7,158.0 456.5,155.0 457.3,151.1 458.0,146.4 458.7,141.5 459.3,136.7 459.8,131.9 460.3,126.9 460.8,122.3 461.1,118.3 461.3,115.3 461.4,113.1 461.5,111.1 461.7,109.0 462.0,106.8 462.3,104.7 462.6,102.4 462.9,100.0 463.0,97.4 463.1,94.7 463.1,91.7 463.3,88.2 463.6,83.7 464.0,78.4 464.5,73.2 464.9,68.9 465.3,65.8 465.7,63.4 466.1,61.6 466.5,60.1 466.8,59.0 467.1,58.5 467.4,58.1 467.7,57.8 468.0,57.4 468.3,57.1 468.6,56.9 468.9,56.9 469.1,57.0 469.3,57.3 469.5,57.8 469.7,58.5 469.9,59.4 470.1,60.4 470.2,61.9 470.5,64.1 470.8,67.4 471.3,71.5 471.7,75.9 472.1,80.2 472.5,84.3 472.9,88.4 473.3,92.4 473.7,96.2 474.1,99.7 474.4,103.0 474.7,106.1 475.0,109.0 475.2,111.4 475.4,113.3 475.5,115.4 475.8,118.3 476.2,122.4 476.6,127.3 477.1,132.3 477.6,136.7 478.0,140.3 478.4,143.6 478.9,146.6 479.4,149.5 480.0,152.5 480.7,155.3 481.4,158.0 482.2,160.5 483.1,162.7 484.0,164.7 485.0,166.5 485.9,167.9 486.9,168.9 487.9,169.6 488.9,170.0 489.5,170.3" fill="none" stroke="#b4123c" stroke-width="1.35" stroke-dasharray="0.01 2.05" stroke-linecap="round" stroke-linejoin="round"/>
<polyline points="458.3,170.3 459.0,170.0 459.9,169.6 461.0,168.9 462.0,167.9 462.9,166.5 463.9,164.7 464.8,162.7 465.7,160.5 466.5,158.0 467.2,155.3 467.8,152.5 468.4,149.5 468.9,146.6 469.4,143.6 469.8,140.3 470.3,136.7 470.9,132.3 471.6,127.3 472.2,122.4 472.7,118.3 473.0,115.3 473.2,113.1 473.3,111.1 473.4,109.0 473.5,106.7 473.6,104.5 473.7,102.2 473.9,100.0 474.1,98.0 474.4,96.1 474.7,94.1 475.0,91.4 475.4,87.8 475.8,83.6 476.2,79.3 476.6,75.3 476.9,71.7 477.2,68.2 477.5,65.1 477.8,62.5 478.0,60.4 478.2,58.8 478.4,57.6 478.6,56.9 478.9,56.7 479.2,56.9 479.5,57.8 479.8,59.3 480.2,61.7 480.6,64.8 481.0,68.4 481.4,72.1 481.7,75.8 482.0,79.6 482.3,83.8 482.6,88.2 483.0,93.3 483.4,99.0 483.8,104.5 484.2,109.0 484.5,111.9 484.8,113.8 485.1,115.6 485.5,118.3 485.9,122.3 486.4,127.2 486.8,132.1 487.3,136.7 487.8,140.7 488.2,144.5 488.7,148.1 489.2,151.4 489.7,154.5 490.2,157.4 490.8,160.1 491.4,162.4 492.0,164.4 492.7,166.2 493.4,167.7 494.1,168.8 494.9,169.6 495.7,170.0 496.4,170.1 496.9,170.3" fill="none" stroke="#40609f" stroke-width="1.35" stroke-dasharray="0.01 2.05" stroke-linecap="round" stroke-linejoin="round"/>
<rect x="388.2" y="48.1" width="122.9" height="122.4" fill="none" stroke="#000" stroke-width="1.45"/>
<path d="M386.0 48.1 H388.2" stroke="#000" stroke-width="1.45"/>
<path d="M384.6 170.5 H388.2" stroke="#000" stroke-width="1"/>
<text x="374.55" y="173.80" font-size="9.8" fill="#1a1a1a" textLength="5.65" lengthAdjust="spacingAndGlyphs">0</text>
<path d="M386.3 165.8 H388.2" stroke="#000" stroke-width="0.8"/>
<path d="M386.3 161.2 H388.2" stroke="#000" stroke-width="0.8"/>
<path d="M386.3 156.5 H388.2" stroke="#000" stroke-width="0.8"/>
<path d="M386.3 151.8 H388.2" stroke="#000" stroke-width="0.8"/>
<path d="M384.6 147.2 H388.2" stroke="#000" stroke-width="1"/>
<text x="368.90" y="150.47" font-size="9.8" fill="#1a1a1a" textLength="11.30" lengthAdjust="spacingAndGlyphs">20</text>
<path d="M386.3 142.5 H388.2" stroke="#000" stroke-width="0.8"/>
<path d="M386.3 137.8 H388.2" stroke="#000" stroke-width="0.8"/>
<path d="M386.3 133.2 H388.2" stroke="#000" stroke-width="0.8"/>
<path d="M386.3 128.5 H388.2" stroke="#000" stroke-width="0.8"/>
<path d="M384.6 123.8 H388.2" stroke="#000" stroke-width="1"/>
<text x="368.90" y="127.14" font-size="9.8" fill="#1a1a1a" textLength="11.30" lengthAdjust="spacingAndGlyphs">40</text>
<path d="M386.3 119.2 H388.2" stroke="#000" stroke-width="0.8"/>
<path d="M386.3 114.5 H388.2" stroke="#000" stroke-width="0.8"/>
<path d="M386.3 109.8 H388.2" stroke="#000" stroke-width="0.8"/>
<path d="M386.3 105.2 H388.2" stroke="#000" stroke-width="0.8"/>
<path d="M384.6 100.5 H388.2" stroke="#000" stroke-width="1"/>
<text x="368.90" y="103.81" font-size="9.8" fill="#1a1a1a" textLength="11.30" lengthAdjust="spacingAndGlyphs">60</text>
<path d="M386.3 95.8 H388.2" stroke="#000" stroke-width="0.8"/>
<path d="M386.3 91.2 H388.2" stroke="#000" stroke-width="0.8"/>
<path d="M386.3 86.5 H388.2" stroke="#000" stroke-width="0.8"/>
<path d="M386.3 81.8 H388.2" stroke="#000" stroke-width="0.8"/>
<path d="M384.6 77.2 H388.2" stroke="#000" stroke-width="1"/>
<text x="368.90" y="80.48" font-size="9.8" fill="#1a1a1a" textLength="11.30" lengthAdjust="spacingAndGlyphs">80</text>
<path d="M386.3 72.5 H388.2" stroke="#000" stroke-width="0.8"/>
<path d="M386.3 67.8 H388.2" stroke="#000" stroke-width="0.8"/>
<path d="M386.3 63.2 H388.2" stroke="#000" stroke-width="0.8"/>
<path d="M386.3 58.5 H388.2" stroke="#000" stroke-width="0.8"/>
<path d="M384.6 53.8 H388.2" stroke="#000" stroke-width="1"/>
<text x="363.25" y="57.15" font-size="9.8" fill="#1a1a1a" textLength="16.95" lengthAdjust="spacingAndGlyphs">100</text>
<path d="M440.8 170.5 V174.1" stroke="#000" stroke-width="1.05"/>
<path d="M469.0 170.5 V174.1" stroke="#000" stroke-width="1.05"/>
<path d="M497.1 170.5 V174.1" stroke="#000" stroke-width="1.05"/>
<path d="M412.1 170.5 V174.1" stroke="#000" stroke-width="1.05"/>
<path d="M390.7 170.5 V172.7" stroke="#000" stroke-width="0.95"/>
<path d="M395.1 170.5 V172.7" stroke="#000" stroke-width="0.95"/>
<path d="M397.4 170.5 V172.7" stroke="#000" stroke-width="0.95"/>
<path d="M400.1 170.5 V172.7" stroke="#000" stroke-width="0.95"/>
<path d="M401.1 170.5 V172.7" stroke="#000" stroke-width="0.95"/>
<path d="M402.1 170.5 V172.7" stroke="#000" stroke-width="0.95"/>
<path d="M403.1 170.5 V172.7" stroke="#000" stroke-width="0.95"/>
<path d="M403.9 170.5 V172.7" stroke="#000" stroke-width="0.95"/>
<path d="M406.3 170.5 V172.7" stroke="#000" stroke-width="0.95"/>
<path d="M408.9 170.5 V172.7" stroke="#000" stroke-width="0.95"/>
<path d="M419.7 170.5 V172.7" stroke="#000" stroke-width="0.95"/>
<path d="M423.7 170.5 V172.7" stroke="#000" stroke-width="0.95"/>
<path d="M427.2 170.5 V172.7" stroke="#000" stroke-width="0.95"/>
<path d="M429.9 170.5 V172.7" stroke="#000" stroke-width="0.95"/>
<path d="M432.2 170.5 V172.7" stroke="#000" stroke-width="0.95"/>
<path d="M434.1 170.5 V172.7" stroke="#000" stroke-width="0.95"/>
<path d="M436.1 170.5 V172.7" stroke="#000" stroke-width="0.95"/>
<path d="M437.6 170.5 V172.7" stroke="#000" stroke-width="0.95"/>
<path d="M439.1 170.5 V172.7" stroke="#000" stroke-width="0.95"/>
<path d="M449.3 170.5 V172.7" stroke="#000" stroke-width="0.95"/>
<path d="M454.2 170.5 V172.7" stroke="#000" stroke-width="0.95"/>
<path d="M457.7 170.5 V172.7" stroke="#000" stroke-width="0.95"/>
<path d="M460.5 170.5 V172.7" stroke="#000" stroke-width="0.95"/>
<path d="M462.7 170.5 V172.7" stroke="#000" stroke-width="0.95"/>
<path d="M464.6 170.5 V172.7" stroke="#000" stroke-width="0.95"/>
<path d="M466.2 170.5 V172.7" stroke="#000" stroke-width="0.95"/>
<path d="M467.7 170.5 V172.7" stroke="#000" stroke-width="0.95"/>
<path d="M477.4 170.5 V172.7" stroke="#000" stroke-width="0.95"/>
<path d="M482.4 170.5 V172.7" stroke="#000" stroke-width="0.95"/>
<path d="M485.9 170.5 V172.7" stroke="#000" stroke-width="0.95"/>
<path d="M488.6 170.5 V172.7" stroke="#000" stroke-width="0.95"/>
<path d="M490.9 170.5 V172.7" stroke="#000" stroke-width="0.95"/>
<path d="M492.7 170.5 V172.7" stroke="#000" stroke-width="0.95"/>
<path d="M494.4 170.5 V172.7" stroke="#000" stroke-width="0.95"/>
<path d="M495.8 170.5 V172.7" stroke="#000" stroke-width="0.95"/>
<path d="M505.6 170.5 V172.7" stroke="#000" stroke-width="0.95"/>
<text x="409.35" y="188.00" font-size="10.4" fill="#1a1a1a" textLength="5.30" lengthAdjust="spacingAndGlyphs">0</text>
<text x="434.00" y="188.00" font-size="10.4" fill="#1a1a1a" textLength="10.60" lengthAdjust="spacingAndGlyphs">10</text>
<text x="444.60" y="184.30" font-size="8.3" fill="#1a1a1a" textLength="4.50" lengthAdjust="spacingAndGlyphs">3</text>
<text x="462.30" y="188.00" font-size="10.4" fill="#1a1a1a" textLength="10.60" lengthAdjust="spacingAndGlyphs">10</text>
<text x="472.90" y="184.30" font-size="8.3" fill="#1a1a1a" textLength="4.50" lengthAdjust="spacingAndGlyphs">4</text>
<text x="490.50" y="188.00" font-size="10.4" fill="#1a1a1a" textLength="10.60" lengthAdjust="spacingAndGlyphs">10</text>
<text x="501.10" y="184.30" font-size="8.3" fill="#1a1a1a" textLength="4.50" lengthAdjust="spacingAndGlyphs">5</text>
<path d="M389.2 191.7 H508.2" stroke="#000" stroke-width="1.1"/>
<path d="M511.2 191.7 L504.0 188.5 L505.8 191.7 L504.0 194.9 Z" fill="#000"/>
<text x="437.9" y="206.3" font-size="12.8" fill="#2a2a2a" textLength="23.8" lengthAdjust="spacingAndGlyphs">CD59</text>
<text x="483.73" y="60.80" font-size="10.5" fill="#40609f" textLength="27.25" lengthAdjust="spacingAndGlyphs">21640</text>
<text x="483.38" y="73.20" font-size="10.5" fill="#b4123c" textLength="22.00" lengthAdjust="spacingAndGlyphs">9298</text>
</g>
<g id="Cleft">
<polygon points="46.3,386.4 46.3,386.0 46.4,385.3 46.4,384.6 46.5,383.8 46.5,383.0 46.6,382.1 46.7,381.2 46.8,380.3 46.9,379.3 47.0,378.2 47.1,377.2 47.2,376.1 47.3,375.0 47.4,373.9 47.6,372.7 47.7,371.5 47.8,370.3 48.0,369.1 48.2,367.8 48.3,366.5 48.5,365.2 48.7,363.8 48.9,362.4 49.1,361.1 49.3,359.8 49.5,358.7 49.7,357.5 49.9,356.2 50.1,354.8 50.3,353.1 50.5,351.1 50.8,348.8 51.0,346.4 51.3,343.9 51.5,341.4 51.8,339.1 52.1,336.9 52.3,334.9 52.6,332.9 52.9,330.8 53.2,328.5 53.4,326.1 53.6,323.3 53.8,320.2 54.0,317.0 54.1,313.8 54.3,310.8 54.5,308.1 54.7,305.7 54.9,303.5 55.1,301.5 55.4,299.7 55.6,297.9 55.8,296.1 56.0,294.4 56.2,292.8 56.5,291.2 56.7,289.8 56.9,288.4 57.1,287.1 57.3,285.9 57.5,284.8 57.7,283.8 57.9,282.8 58.1,281.9 58.3,281.1 58.5,280.3 58.6,279.6 58.8,279.0 58.9,278.5 59.0,278.0 59.1,277.6 59.2,277.3 59.3,277.1 59.3,276.9 59.4,276.8 59.4,276.8 59.5,276.9 59.6,277.1 59.7,277.4 59.8,277.9 59.9,278.3 60.0,278.7 60.1,279.1 60.2,279.4 60.3,279.7 60.4,280.0 60.6,280.2 60.7,280.4 60.8,280.6 60.9,280.7 61.1,280.6 61.2,280.5 61.3,280.5 61.5,280.5 61.6,280.6 61.7,280.8 61.8,281.0 62.0,281.4 62.1,281.8 62.2,282.3 62.4,283.1 62.6,284.0 62.8,285.1 63.1,286.3 63.4,287.7 63.6,289.3 63.9,291.1 64.2,293.2 64.5,295.5 64.8,298.0 65.1,300.6 65.4,303.3 65.7,306.1 65.9,308.9 66.1,312.0 66.3,315.0 66.5,318.1 66.7,321.2 66.9,324.1 67.1,326.9 67.4,329.7 67.6,332.4 67.8,335.1 68.1,337.6 68.3,340.1 68.5,342.5 68.7,344.8 68.9,347.0 69.1,349.1 69.3,351.1 69.5,353.1 69.7,355.0 69.9,356.8 70.2,358.5 70.4,360.2 70.6,361.7 70.8,363.1 71.0,364.3 71.2,365.3 71.3,366.2 71.5,367.1 71.7,368.0 71.9,369.1 72.2,370.4 72.5,371.9 72.8,373.4 73.1,374.9 73.5,376.3 73.8,377.6 74.1,378.7 74.5,379.8 74.8,380.7 75.2,381.6 75.5,382.4 75.8,383.1 76.1,383.7 76.4,384.2 76.7,384.5 76.9,384.8 77.2,385.1 77.5,385.4 77.8,385.7 78.2,385.9 78.5,386.0 78.8,386.2 79.1,386.3 79.3,386.4" fill="#dcdcde"/>
<polyline points="46.6,381.9 46.6,381.8 46.7,381.7 46.8,381.5 47.0,380.9 47.3,380.0 47.8,378.9 48.3,377.4 48.8,375.4 49.3,372.7 49.9,369.5 50.5,366.0 51.0,362.5 51.5,358.9 51.9,355.2 52.4,351.5 52.8,347.9 53.3,344.4 53.8,340.9 54.3,337.8 54.7,335.1 54.9,333.3 55.0,332.0 55.1,330.9 55.3,329.4 55.6,327.3 55.9,325.0 56.2,322.6 56.5,320.4 56.6,318.7 56.7,317.3 56.7,315.7 56.9,313.4 57.2,309.9 57.6,305.5 58.0,301.1 58.5,297.3 59.1,294.4 59.7,292.1 60.3,289.9 60.9,287.7 61.4,285.1 61.8,282.4 62.1,279.9 62.5,278.1 62.8,277.2 63.1,277.0 63.4,277.1 63.7,277.1 64.0,276.8 64.3,276.5 64.6,276.6 64.9,277.4 65.1,279.3 65.3,282.0 65.5,284.9 65.7,287.7 66.1,290.0 66.5,292.1 66.9,294.5 67.3,297.3 67.7,301.1 68.0,305.5 68.3,309.9 68.6,313.4 68.8,315.6 68.9,317.0 69.1,318.3 69.3,320.4 69.7,323.6 70.2,327.4 70.7,331.4 71.2,335.1 71.7,338.4 72.1,341.5 72.6,344.6 73.0,347.9 73.4,351.5 73.8,355.2 74.3,358.9 74.8,362.5 75.4,366.0 76.1,369.4 76.8,372.6 77.6,375.4 78.4,377.7 79.3,379.6 80.2,381.3 81.2,382.7 82.3,383.9 83.4,384.8 84.6,385.5 85.8,386.0 87.1,386.3 88.4,386.4 89.6,386.4 90.4,386.4" fill="none" stroke="#b4123c" stroke-width="1.35" stroke-dasharray="0.01 2.05" stroke-linecap="round" stroke-linejoin="round"/>
<polyline points="46.6,386.4 48.2,385.4 49.8,384.3 50.9,383.2 52.1,382.0 53.2,380.9 54.2,379.5 55.1,378.0 56.1,376.5 57.0,375.1 57.7,373.6 58.4,372.2 59.1,370.8 59.8,369.3 60.4,367.9 61.0,366.4 61.6,365.0 62.2,363.6 62.8,362.2 63.5,360.8 64.1,359.4 64.7,358.0 65.4,356.4 66.1,354.9 66.8,353.3 67.4,351.9 67.8,350.6 68.7,349.2 69.5,346.8 70.8,345.6 71.4,344.4 72.3,342.9 74.6,343.7 76.3,341.6 77.6,339.6 78.2,337.3 78.6,336.6 78.5,335.5 79.4,333.1 80.8,332.3 82.3,332.9 83.9,332.1 85.6,330.3 87.1,328.9 87.5,326.8 88.4,325.6 89.5,324.0 90.0,322.6 90.2,321.1 92.0,320.7 92.9,318.4 93.4,317.3 94.0,316.4 94.4,314.6 94.8,312.6 95.8,310.9 96.7,308.7 97.2,308.1 99.1,306.7 100.0,305.1 100.4,303.1 101.1,300.9 102.3,300.4 103.3,297.6 104.8,296.5 105.5,295.4 107.1,293.6 108.7,292.3 109.6,291.4 110.0,289.1 111.2,286.4 112.4,287.9 113.5,289.5 114.2,291.7 114.4,293.0 115.0,293.9 115.3,296.5 116.2,296.8 115.8,298.8 116.6,301.1 117.4,302.5 117.4,303.9 117.6,305.6 117.7,307.5 118.2,308.9 118.6,311.2 119.0,312.8 119.5,314.4 119.7,314.5 119.8,316.6 120.7,319.2 121.2,320.3 121.2,321.9 122.4,322.6 123.8,321.9 124.1,323.4 124.4,325.0 124.8,326.6 125.1,328.1 125.4,329.9 125.7,331.6 125.9,333.4 126.2,335.1 126.4,336.7 126.7,338.4 126.9,340.0 127.2,341.6 127.6,343.3 128.0,344.9 128.4,346.6 128.8,348.3 129.2,349.9 129.6,351.6 130.0,353.2 130.3,354.7 130.7,356.3 131.1,357.8 131.5,359.4 131.8,360.9 132.2,362.5 132.7,364.2 133.2,365.9 133.8,367.7 134.3,369.4 134.8,371.1 135.5,372.5 136.2,374.0 136.8,375.4 137.5,376.9 138.2,378.3 139.3,379.7 140.3,381.1 141.4,382.6 142.5,384.0 144.2,385.1 145.9,386.3 147.6,386.4 149.2,386.5" fill="none" stroke="#40609f" stroke-width="1.35" stroke-dasharray="0.01 2.05" stroke-linecap="round" stroke-linejoin="round"/>
<rect x="46.1" y="264.85" width="121.9" height="121.8" fill="none" stroke="#000" stroke-width="1.45"/>
<path d="M43.9 264.85 H46.1" stroke="#000" stroke-width="1.45"/>
<path d="M42.5 386.6 H46.1" stroke="#000" stroke-width="1"/>
<text x="33.05" y="389.90" font-size="9.8" fill="#1a1a1a" textLength="5.65" lengthAdjust="spacingAndGlyphs">0</text>
<path d="M44.2 382.0 H46.1" stroke="#000" stroke-width="0.8"/>
<path d="M44.2 377.3 H46.1" stroke="#000" stroke-width="0.8"/>
<path d="M44.2 372.7 H46.1" stroke="#000" stroke-width="0.8"/>
<path d="M44.2 368.0 H46.1" stroke="#000" stroke-width="0.8"/>
<path d="M42.5 363.4 H46.1" stroke="#000" stroke-width="1"/>
<text x="27.40" y="366.68" font-size="9.8" fill="#1a1a1a" textLength="11.30" lengthAdjust="spacingAndGlyphs">20</text>
<path d="M44.2 358.7 H46.1" stroke="#000" stroke-width="0.8"/>
<path d="M44.2 354.1 H46.1" stroke="#000" stroke-width="0.8"/>
<path d="M44.2 349.4 H46.1" stroke="#000" stroke-width="0.8"/>
<path d="M44.2 344.8 H46.1" stroke="#000" stroke-width="0.8"/>
<path d="M42.5 340.2 H46.1" stroke="#000" stroke-width="1"/>
<text x="27.40" y="343.46" font-size="9.8" fill="#1a1a1a" textLength="11.30" lengthAdjust="spacingAndGlyphs">40</text>
<path d="M44.2 335.5 H46.1" stroke="#000" stroke-width="0.8"/>
<path d="M44.2 330.9 H46.1" stroke="#000" stroke-width="0.8"/>
<path d="M44.2 326.2 H46.1" stroke="#000" stroke-width="0.8"/>
<path d="M44.2 321.6 H46.1" stroke="#000" stroke-width="0.8"/>
<path d="M42.5 316.9 H46.1" stroke="#000" stroke-width="1"/>
<text x="27.40" y="320.24" font-size="9.8" fill="#1a1a1a" textLength="11.30" lengthAdjust="spacingAndGlyphs">60</text>
<path d="M44.2 312.3 H46.1" stroke="#000" stroke-width="0.8"/>
<path d="M44.2 307.7 H46.1" stroke="#000" stroke-width="0.8"/>
<path d="M44.2 303.0 H46.1" stroke="#000" stroke-width="0.8"/>
<path d="M44.2 298.4 H46.1" stroke="#000" stroke-width="0.8"/>
<path d="M42.5 293.7 H46.1" stroke="#000" stroke-width="1"/>
<text x="27.40" y="297.02" font-size="9.8" fill="#1a1a1a" textLength="11.30" lengthAdjust="spacingAndGlyphs">80</text>
<path d="M44.2 289.1 H46.1" stroke="#000" stroke-width="0.8"/>
<path d="M44.2 284.4 H46.1" stroke="#000" stroke-width="0.8"/>
<path d="M44.2 279.8 H46.1" stroke="#000" stroke-width="0.8"/>
<path d="M44.2 275.1 H46.1" stroke="#000" stroke-width="0.8"/>
<path d="M42.5 270.5 H46.1" stroke="#000" stroke-width="1"/>
<text x="21.75" y="273.80" font-size="9.8" fill="#1a1a1a" textLength="16.95" lengthAdjust="spacingAndGlyphs">100</text>
<path d="M114.1 386.6 V390.2" stroke="#000" stroke-width="1.05"/>
<path d="M151.5 386.6 V390.2" stroke="#000" stroke-width="1.05"/>
<path d="M47.4 386.6 V388.8" stroke="#000" stroke-width="0.95"/>
<path d="M57.3 386.6 V388.8" stroke="#000" stroke-width="0.95"/>
<path d="M58.9 386.6 V388.8" stroke="#000" stroke-width="0.95"/>
<path d="M61.7 386.6 V388.8" stroke="#000" stroke-width="0.95"/>
<path d="M64.5 386.6 V388.8" stroke="#000" stroke-width="0.95"/>
<path d="M65.7 386.6 V388.8" stroke="#000" stroke-width="0.95"/>
<path d="M66.7 386.6 V388.8" stroke="#000" stroke-width="0.95"/>
<path d="M67.7 386.6 V388.8" stroke="#000" stroke-width="0.95"/>
<path d="M68.7 386.6 V388.8" stroke="#000" stroke-width="0.95"/>
<path d="M72.5 386.6 V388.8" stroke="#000" stroke-width="0.95"/>
<path d="M74.9 386.6 V388.8" stroke="#000" stroke-width="0.95"/>
<path d="M77.5 386.6 V388.8" stroke="#000" stroke-width="0.95"/>
<path d="M86.4 386.6 V388.8" stroke="#000" stroke-width="0.95"/>
<path d="M92.5 386.6 V388.8" stroke="#000" stroke-width="0.95"/>
<path d="M97.2 386.6 V388.8" stroke="#000" stroke-width="0.95"/>
<path d="M101.0 386.6 V388.8" stroke="#000" stroke-width="0.95"/>
<path d="M104.1 386.6 V388.8" stroke="#000" stroke-width="0.95"/>
<path d="M106.4 386.6 V388.8" stroke="#000" stroke-width="0.95"/>
<path d="M108.3 386.6 V388.8" stroke="#000" stroke-width="0.95"/>
<path d="M110.2 386.6 V388.8" stroke="#000" stroke-width="0.95"/>
<path d="M111.8 386.6 V388.8" stroke="#000" stroke-width="0.95"/>
<path d="M125.4 386.6 V388.8" stroke="#000" stroke-width="0.95"/>
<path d="M131.9 386.6 V388.8" stroke="#000" stroke-width="0.95"/>
<path d="M136.6 386.6 V388.8" stroke="#000" stroke-width="0.95"/>
<path d="M140.2 386.6 V388.8" stroke="#000" stroke-width="0.95"/>
<path d="M143.2 386.6 V388.8" stroke="#000" stroke-width="0.95"/>
<path d="M145.7 386.6 V388.8" stroke="#000" stroke-width="0.95"/>
<path d="M147.9 386.6 V388.8" stroke="#000" stroke-width="0.95"/>
<path d="M149.8 386.6 V388.8" stroke="#000" stroke-width="0.95"/>
<path d="M162.8 386.6 V388.8" stroke="#000" stroke-width="0.95"/>
<text x="65.65" y="404.10" font-size="10.4" fill="#1a1a1a" textLength="5.30" lengthAdjust="spacingAndGlyphs">0</text>
<text x="107.80" y="404.10" font-size="10.4" fill="#1a1a1a" textLength="10.60" lengthAdjust="spacingAndGlyphs">10</text>
<text x="118.40" y="400.40" font-size="8.3" fill="#1a1a1a" textLength="4.50" lengthAdjust="spacingAndGlyphs">3</text>
<text x="144.50" y="404.10" font-size="10.4" fill="#1a1a1a" textLength="10.60" lengthAdjust="spacingAndGlyphs">10</text>
<text x="155.10" y="400.40" font-size="8.3" fill="#1a1a1a" textLength="4.50" lengthAdjust="spacingAndGlyphs">4</text>
<path d="M41.6 409.6 H160.6" stroke="#000" stroke-width="1.1"/>
<path d="M163.6 409.6 L156.4 406.4 L158.2 409.6 L156.4 412.8 Z" fill="#000"/>
<text x="95.7" y="423.4" font-size="11.6" fill="#2a2a2a" textLength="22.3" lengthAdjust="spacingAndGlyphs">Emm</text>
<text x="147.87" y="275.10" font-size="10.5" fill="#40609f" textLength="15.90" lengthAdjust="spacingAndGlyphs">353</text>
<text x="158.47" y="287.30" font-size="10.5" fill="#b4123c" textLength="5.30" lengthAdjust="spacingAndGlyphs">5</text>
</g>
<g id="Cright">
<polygon points="206.7,386.5 206.8,386.5 207.0,386.5 207.1,386.5 207.4,386.3 207.7,386.1 208.1,385.6 208.6,384.9 209.3,383.9 210.0,382.8 210.8,381.7 211.5,380.4 212.2,379.2 212.8,378.0 213.4,376.8 213.9,375.6 214.4,374.3 214.9,372.8 215.4,371.2 215.8,369.4 216.2,367.4 216.5,365.2 216.9,363.0 217.2,360.7 217.6,358.3 218.0,355.7 218.5,352.9 218.9,349.9 219.4,347.1 219.8,344.5 220.1,342.3 220.4,340.6 220.5,339.3 220.7,338.3 220.8,337.4 221.0,336.4 221.1,335.2 221.3,333.8 221.4,332.4 221.6,331.0 221.8,329.5 221.9,327.9 222.1,326.2 222.3,324.4 222.4,322.6 222.6,320.7 222.7,318.8 222.9,316.6 223.1,314.4 223.3,311.9 223.5,309.2 223.8,306.4 224.0,303.5 224.3,300.8 224.5,298.3 224.7,295.9 225.0,293.6 225.2,291.4 225.5,289.4 225.7,287.7 225.9,286.2 226.1,285.1 226.2,284.2 226.3,283.6 226.4,283.3 226.6,283.1 226.7,283.0 226.9,283.3 227.1,284.0 227.3,284.9 227.5,285.7 227.7,286.2 227.9,286.2 228.1,285.4 228.3,283.9 228.5,282.2 228.7,280.5 228.9,279.1 229.1,278.4 229.3,278.5 229.4,279.3 229.6,280.4 229.7,281.6 229.9,282.6 230.0,283.2 230.1,283.1 230.3,282.5 230.4,281.7 230.6,281.1 230.7,281.0 230.9,281.7 231.1,283.4 231.3,285.9 231.5,288.9 231.8,292.1 232.0,295.4 232.2,298.3 232.4,301.1 232.6,303.9 232.7,306.6 232.9,309.4 233.0,312.0 233.2,314.4 233.4,316.6 233.5,318.8 233.7,320.7 233.8,322.6 234.0,324.4 234.1,326.2 234.2,327.9 234.4,329.5 234.5,331.0 234.6,332.4 234.8,333.8 234.9,335.2 235.0,336.4 235.1,337.4 235.2,338.3 235.3,339.3 235.4,340.6 235.6,342.3 235.8,344.5 236.1,347.1 236.4,349.9 236.7,352.9 237.0,355.7 237.3,358.3 237.6,360.7 237.9,363.0 238.1,365.2 238.4,367.4 238.7,369.4 239.0,371.2 239.3,372.8 239.6,374.3 239.9,375.6 240.2,376.8 240.6,378.0 241.1,379.2 241.7,380.4 242.4,381.7 243.1,382.8 243.8,383.9 244.5,384.9 245.1,385.6 245.6,386.1 246.0,386.3 246.4,386.5 246.7,386.5 247.0,386.5 247.2,386.5" fill="#dcdcde"/>
<polyline points="245.2,386.0 245.8,385.5 246.7,384.8 247.7,383.8 248.7,382.3 249.6,380.2 250.6,377.7 251.6,374.8 252.5,371.6 253.4,368.0 254.3,364.0 255.1,359.8 256.0,355.4 256.9,350.6 257.9,345.5 258.8,340.6 259.5,336.6 260.0,333.9 260.3,332.2 260.5,330.7 260.8,329.0 261.2,326.9 261.6,324.7 261.9,322.5 262.2,320.4 262.3,318.6 262.3,317.1 262.4,315.2 262.5,312.5 262.8,308.5 263.3,303.5 263.7,298.3 264.2,293.5 264.7,289.1 265.2,284.7 265.6,280.8 266.0,277.9 266.2,276.2 266.4,275.4 266.6,275.1 266.8,275.0 267.2,275.0 267.6,275.4 268.0,275.9 268.5,276.4 269.0,276.6 269.4,276.7 269.9,277.2 270.3,278.8 270.6,281.9 270.8,286.1 270.9,290.7 271.2,295.2 271.6,299.7 272.0,304.4 272.5,308.8 272.9,312.5 273.2,315.1 273.5,317.0 273.8,318.6 274.0,320.4 274.2,322.5 274.3,324.7 274.4,326.9 274.6,329.0 274.8,330.8 275.0,332.3 275.3,334.1 275.6,336.6 276.0,340.0 276.4,344.1 276.9,348.5 277.5,352.7 278.1,356.8 278.8,361.1 279.4,365.1 280.2,368.9 281.0,372.4 281.8,375.7 282.7,378.6 283.7,381.0 284.8,382.8 286.0,384.0 287.2,384.9 288.3,385.6 289.4,386.1 290.6,386.3 291.6,386.3 292.3,386.4" fill="none" stroke="#b4123c" stroke-width="1.35" stroke-dasharray="0.01 2.05" stroke-linecap="round" stroke-linejoin="round"/>
<polyline points="266.4,386.3 267.1,386.0 268.0,385.6 269.1,384.9 270.1,383.9 271.0,382.5 272.0,380.7 272.9,378.7 273.8,376.5 274.6,374.0 275.3,371.3 275.9,368.5 276.5,365.5 277.0,362.6 277.5,359.6 277.9,356.3 278.4,352.7 279.0,348.3 279.7,343.3 280.3,338.4 280.8,334.3 281.1,331.3 281.3,329.1 281.4,327.1 281.5,325.0 281.6,322.7 281.7,320.5 281.8,318.2 282.0,316.0 282.2,314.0 282.5,312.1 282.8,310.1 283.1,307.4 283.5,303.8 283.9,299.6 284.3,295.3 284.7,291.3 285.0,287.7 285.4,284.2 285.6,281.1 285.9,278.5 286.1,276.4 286.3,274.8 286.5,273.6 286.7,272.9 287.0,272.7 287.2,272.9 287.6,273.8 287.9,275.3 288.3,277.7 288.7,280.8 289.1,284.4 289.5,288.1 289.8,291.8 290.1,295.6 290.4,299.8 290.7,304.2 291.1,309.3 291.5,315.0 291.9,320.5 292.3,325.0 292.6,327.9 292.9,329.8 293.2,331.6 293.6,334.3 294.0,338.3 294.5,343.2 294.9,348.1 295.4,352.7 295.9,356.7 296.3,360.5 296.8,364.1 297.3,367.4 297.8,370.5 298.3,373.4 298.9,376.1 299.5,378.4 300.1,380.4 300.8,382.2 301.5,383.7 302.2,384.8 303.0,385.6 303.8,386.0 304.5,386.1 305.0,386.3" fill="none" stroke="#40609f" stroke-width="1.35" stroke-dasharray="0.01 2.05" stroke-linecap="round" stroke-linejoin="round"/>
<rect x="196.95" y="264.8" width="122.0" height="121.8" fill="none" stroke="#000" stroke-width="1.45"/>
<path d="M194.8 264.8 H196.95" stroke="#000" stroke-width="1.45"/>
<path d="M193.3 386.6 H196.95" stroke="#000" stroke-width="1"/>
<text x="183.65" y="389.90" font-size="9.8" fill="#1a1a1a" textLength="5.65" lengthAdjust="spacingAndGlyphs">0</text>
<path d="M195.0 382.0 H196.95" stroke="#000" stroke-width="0.8"/>
<path d="M195.0 377.3 H196.95" stroke="#000" stroke-width="0.8"/>
<path d="M195.0 372.7 H196.95" stroke="#000" stroke-width="0.8"/>
<path d="M195.0 368.0 H196.95" stroke="#000" stroke-width="0.8"/>
<path d="M193.3 363.4 H196.95" stroke="#000" stroke-width="1"/>
<text x="178.00" y="366.68" font-size="9.8" fill="#1a1a1a" textLength="11.30" lengthAdjust="spacingAndGlyphs">20</text>
<path d="M195.0 358.7 H196.95" stroke="#000" stroke-width="0.8"/>
<path d="M195.0 354.1 H196.95" stroke="#000" stroke-width="0.8"/>
<path d="M195.0 349.4 H196.95" stroke="#000" stroke-width="0.8"/>
<path d="M195.0 344.8 H196.95" stroke="#000" stroke-width="0.8"/>
<path d="M193.3 340.2 H196.95" stroke="#000" stroke-width="1"/>
<text x="178.00" y="343.46" font-size="9.8" fill="#1a1a1a" textLength="11.30" lengthAdjust="spacingAndGlyphs">40</text>
<path d="M195.0 335.5 H196.95" stroke="#000" stroke-width="0.8"/>
<path d="M195.0 330.9 H196.95" stroke="#000" stroke-width="0.8"/>
<path d="M195.0 326.2 H196.95" stroke="#000" stroke-width="0.8"/>
<path d="M195.0 321.6 H196.95" stroke="#000" stroke-width="0.8"/>
<path d="M193.3 316.9 H196.95" stroke="#000" stroke-width="1"/>
<text x="178.00" y="320.24" font-size="9.8" fill="#1a1a1a" textLength="11.30" lengthAdjust="spacingAndGlyphs">60</text>
<path d="M195.0 312.3 H196.95" stroke="#000" stroke-width="0.8"/>
<path d="M195.0 307.7 H196.95" stroke="#000" stroke-width="0.8"/>
<path d="M195.0 303.0 H196.95" stroke="#000" stroke-width="0.8"/>
<path d="M195.0 298.4 H196.95" stroke="#000" stroke-width="0.8"/>
<path d="M193.3 293.7 H196.95" stroke="#000" stroke-width="1"/>
<text x="178.00" y="297.02" font-size="9.8" fill="#1a1a1a" textLength="11.30" lengthAdjust="spacingAndGlyphs">80</text>
<path d="M195.0 289.1 H196.95" stroke="#000" stroke-width="0.8"/>
<path d="M195.0 284.4 H196.95" stroke="#000" stroke-width="0.8"/>
<path d="M195.0 279.8 H196.95" stroke="#000" stroke-width="0.8"/>
<path d="M195.0 275.1 H196.95" stroke="#000" stroke-width="0.8"/>
<path d="M193.3 270.5 H196.95" stroke="#000" stroke-width="1"/>
<text x="172.35" y="273.80" font-size="9.8" fill="#1a1a1a" textLength="16.95" lengthAdjust="spacingAndGlyphs">100</text>
<path d="M249.1 386.6 V390.2" stroke="#000" stroke-width="1.05"/>
<path d="M277.3 386.6 V390.2" stroke="#000" stroke-width="1.05"/>
<path d="M305.4 386.6 V390.2" stroke="#000" stroke-width="1.05"/>
<path d="M220.4 386.6 V390.2" stroke="#000" stroke-width="1.05"/>
<path d="M199.0 386.6 V388.8" stroke="#000" stroke-width="0.95"/>
<path d="M203.4 386.6 V388.8" stroke="#000" stroke-width="0.95"/>
<path d="M205.7 386.6 V388.8" stroke="#000" stroke-width="0.95"/>
<path d="M208.4 386.6 V388.8" stroke="#000" stroke-width="0.95"/>
<path d="M209.4 386.6 V388.8" stroke="#000" stroke-width="0.95"/>
<path d="M210.4 386.6 V388.8" stroke="#000" stroke-width="0.95"/>
<path d="M211.4 386.6 V388.8" stroke="#000" stroke-width="0.95"/>
<path d="M212.2 386.6 V388.8" stroke="#000" stroke-width="0.95"/>
<path d="M214.6 386.6 V388.8" stroke="#000" stroke-width="0.95"/>
<path d="M217.2 386.6 V388.8" stroke="#000" stroke-width="0.95"/>
<path d="M228.0 386.6 V388.8" stroke="#000" stroke-width="0.95"/>
<path d="M232.0 386.6 V388.8" stroke="#000" stroke-width="0.95"/>
<path d="M235.5 386.6 V388.8" stroke="#000" stroke-width="0.95"/>
<path d="M238.2 386.6 V388.8" stroke="#000" stroke-width="0.95"/>
<path d="M240.5 386.6 V388.8" stroke="#000" stroke-width="0.95"/>
<path d="M242.4 386.6 V388.8" stroke="#000" stroke-width="0.95"/>
<path d="M244.4 386.6 V388.8" stroke="#000" stroke-width="0.95"/>
<path d="M245.9 386.6 V388.8" stroke="#000" stroke-width="0.95"/>
<path d="M247.4 386.6 V388.8" stroke="#000" stroke-width="0.95"/>
<path d="M257.6 386.6 V388.8" stroke="#000" stroke-width="0.95"/>
<path d="M262.5 386.6 V388.8" stroke="#000" stroke-width="0.95"/>
<path d="M266.0 386.6 V388.8" stroke="#000" stroke-width="0.95"/>
<path d="M268.8 386.6 V388.8" stroke="#000" stroke-width="0.95"/>
<path d="M271.0 386.6 V388.8" stroke="#000" stroke-width="0.95"/>
<path d="M272.9 386.6 V388.8" stroke="#000" stroke-width="0.95"/>
<path d="M274.5 386.6 V388.8" stroke="#000" stroke-width="0.95"/>
<path d="M276.0 386.6 V388.8" stroke="#000" stroke-width="0.95"/>
<path d="M285.7 386.6 V388.8" stroke="#000" stroke-width="0.95"/>
<path d="M290.7 386.6 V388.8" stroke="#000" stroke-width="0.95"/>
<path d="M294.2 386.6 V388.8" stroke="#000" stroke-width="0.95"/>
<path d="M296.9 386.6 V388.8" stroke="#000" stroke-width="0.95"/>
<path d="M299.2 386.6 V388.8" stroke="#000" stroke-width="0.95"/>
<path d="M301.0 386.6 V388.8" stroke="#000" stroke-width="0.95"/>
<path d="M302.7 386.6 V388.8" stroke="#000" stroke-width="0.95"/>
<path d="M304.1 386.6 V388.8" stroke="#000" stroke-width="0.95"/>
<path d="M313.9 386.6 V388.8" stroke="#000" stroke-width="0.95"/>
<text x="218.35" y="404.10" font-size="10.4" fill="#1a1a1a" textLength="5.30" lengthAdjust="spacingAndGlyphs">0</text>
<text x="242.20" y="404.10" font-size="10.4" fill="#1a1a1a" textLength="10.60" lengthAdjust="spacingAndGlyphs">10</text>
<text x="252.80" y="400.40" font-size="8.3" fill="#1a1a1a" textLength="4.50" lengthAdjust="spacingAndGlyphs">3</text>
<text x="270.20" y="404.10" font-size="10.4" fill="#1a1a1a" textLength="10.60" lengthAdjust="spacingAndGlyphs">10</text>
<text x="280.80" y="400.40" font-size="8.3" fill="#1a1a1a" textLength="4.50" lengthAdjust="spacingAndGlyphs">4</text>
<text x="298.20" y="404.10" font-size="10.4" fill="#1a1a1a" textLength="10.60" lengthAdjust="spacingAndGlyphs">10</text>
<text x="308.80" y="400.40" font-size="8.3" fill="#1a1a1a" textLength="4.50" lengthAdjust="spacingAndGlyphs">5</text>
<path d="M190.2 409 H309.2" stroke="#000" stroke-width="1.1"/>
<path d="M312.2 409 L305.0 405.8 L306.8 409 L305.0 412.2 Z" fill="#000"/>
<text x="246.0" y="424.6" font-size="12.8" fill="#2a2a2a" textLength="23.8" lengthAdjust="spacingAndGlyphs">CD59</text>
<text x="288.83" y="275.10" font-size="10.5" fill="#40609f" textLength="27.25" lengthAdjust="spacingAndGlyphs">21640</text>
<text x="294.08" y="287.70" font-size="10.5" fill="#b4123c" textLength="22.00" lengthAdjust="spacingAndGlyphs">4424</text>
</g>
<path d="M281.9 35.0 H300.2" stroke="#40609f" stroke-width="1.6" stroke-dasharray="1.05 0.78"/>
<text x="303.8" y="38.1" font-size="10" fill="#222" textLength="39.2" lengthAdjust="spacingAndGlyphs">K562 WT</text>
<path d="M354.8 35.0 H372.6" stroke="#b4123c" stroke-width="1.6" stroke-dasharray="1.05 0.78"/>
<text x="376.5" y="38.1" font-size="10" fill="#222" textLength="64.0" lengthAdjust="spacingAndGlyphs">K562 <tspan font-style="italic">PIGN</tspan> KO</text>
<path d="M91.0 251.2 H109.3" stroke="#40609f" stroke-width="1.6" stroke-dasharray="1.05 0.78"/>
<text x="112.9" y="254.3" font-size="10" fill="#222" textLength="39.2" lengthAdjust="spacingAndGlyphs">K562 WT</text>
<path d="M163.9 251.2 H181.7" stroke="#b4123c" stroke-width="1.6" stroke-dasharray="1.05 0.78"/>
<text x="185.6" y="254.3" font-size="10" fill="#222" textLength="65.0" lengthAdjust="spacingAndGlyphs">K562 <tspan font-style="italic">PIGO</tspan> KO</text>
<defs>
<filter id="b1" filterUnits="userSpaceOnUse" x="370" y="285" width="110" height="130"><feGaussianBlur stdDeviation="0.8"/></filter>
<filter id="b2" filterUnits="userSpaceOnUse" x="370" y="285" width="110" height="130"><feGaussianBlur stdDeviation="1.6"/></filter>
<filter id="b3" filterUnits="userSpaceOnUse" x="370" y="285" width="110" height="130"><feGaussianBlur stdDeviation="6"/></filter>
<filter id="b4" filterUnits="userSpaceOnUse" x="370" y="285" width="110" height="130"><feGaussianBlur stdDeviation="1.0"/></filter>
<filter id="b0" filterUnits="userSpaceOnUse" x="370" y="285" width="110" height="130"><feGaussianBlur stdDeviation="0.6"/></filter>
<clipPath id="c1"><rect x="380.2" y="294.2" width="91.2" height="49.3"/></clipPath>
<clipPath id="c2"><rect x="380.2" y="351.8" width="91.2" height="23.6"/></clipPath>
<clipPath id="c3"><rect x="380.2" y="380.2" width="91.2" height="23.2"/></clipPath>
</defs>
<rect x="380.2" y="294.2" width="91.2" height="49.3" fill="#f2f2f2"/>
<g clip-path="url(#c1)">
<ellipse cx="426" cy="322" rx="30" ry="16" fill="#f8f8f8" filter="url(#b3)"/>
<path d="M380.8 309.8 Q386 306.2 391.3 306 Q397 306.2 401.6 309.8" fill="none" stroke="#777" stroke-width="2.0" filter="url(#b1)"/>
<rect x="440" y="311" width="12" height="9" fill="#e9e9e9" filter="url(#b2)"/>
<path d="M440.3 309.7 Q446 308.5 452.2 310.0" fill="none" stroke="#000" stroke-width="4.0" stroke-linecap="round" filter="url(#b0)"/>
<ellipse cx="465.4" cy="308.4" rx="4" ry="1.6" fill="#e0e0e0" filter="url(#b1)"/>
</g>
<rect x="380.2" y="294.2" width="91.2" height="49.3" fill="none" stroke="#111" stroke-width="1.1"/>
<linearGradient id="sm1" x1="0" y1="0" x2="0" y2="1"><stop offset="0" stop-color="#a8a8a8"/><stop offset="1" stop-color="#3a3a3a"/></linearGradient>
<linearGradient id="sm2" x1="0" y1="0" x2="0" y2="1"><stop offset="0" stop-color="#e4e4e4"/><stop offset="1" stop-color="#9a9a9a"/></linearGradient>
<rect x="380.2" y="351.8" width="91.2" height="23.6" fill="#efefef"/>
<g clip-path="url(#c2)">
<rect x="383" y="349" width="34.5" height="13" fill="url(#sm1)" filter="url(#b2)"/>
<rect x="438" y="353" width="11" height="9" fill="url(#sm2)" filter="url(#b2)"/>
<rect x="382.6" y="360.0" width="16.8" height="8.6" rx="4" fill="#000" filter="url(#b4)"/>
<rect x="400.3" y="360.0" width="17.7" height="8.6" rx="4" fill="#000" filter="url(#b4)"/>
<rect x="436.8" y="362" width="13.6" height="5.4" rx="2.7" fill="#000" filter="url(#b4)"/>
<rect x="455.4" y="362.2" width="13.4" height="4.2" rx="2.1" fill="#a2a2a2" filter="url(#b4)"/>
</g>
<rect x="380.2" y="351.8" width="91.2" height="23.6" fill="none" stroke="#111" stroke-width="1.1"/>
<rect x="380.2" y="380.2" width="91.2" height="23.2" fill="#ebebeb"/>
<g clip-path="url(#c3)">
<path d="M384.5 392.2 Q390.4 391.40000000000003 396.3 392.2" fill="none" stroke="#050505" stroke-width="4.9" stroke-linecap="round" filter="url(#b1)"/>
<path d="M402.40000000000003 392.29999999999995 Q408.5 391.5 414.5 392.29999999999995" fill="none" stroke="#050505" stroke-width="4.9" stroke-linecap="round" filter="url(#b1)"/>
<path d="M420.1 392.59999999999997 Q426.2 391.8 432.4 392.59999999999997" fill="none" stroke="#050505" stroke-width="4.9" stroke-linecap="round" filter="url(#b1)"/>
<path d="M438.3 393.0 Q443.8 392.20000000000005 449.2 393.0" fill="none" stroke="#050505" stroke-width="4.9" stroke-linecap="round" filter="url(#b1)"/>
<path d="M456.0 392.9 Q462.2 392.1 468.4 392.9" fill="none" stroke="#050505" stroke-width="4.9" stroke-linecap="round" filter="url(#b1)"/>
</g>
<rect x="380.2" y="380.2" width="91.2" height="23.2" fill="none" stroke="#111" stroke-width="1.1"/>
<text x="353" y="313.6" font-size="10" fill="#222" textLength="23" lengthAdjust="spacingAndGlyphs">Emm</text>
<text x="349.2" y="370.1" font-size="10" fill="#222" textLength="26.8" lengthAdjust="spacingAndGlyphs">CD59</text>
<text x="352.8" y="397.7" font-size="10" fill="#222" textLength="23.2" lengthAdjust="spacingAndGlyphs">Actin</text>
<text x="491.6" y="302.3" font-size="10" fill="#222" textLength="10.6" lengthAdjust="spacingAndGlyphs">10</text>
<text x="491.6" y="367.1" font-size="10" fill="#222" textLength="10.6" lengthAdjust="spacingAndGlyphs">15</text>
<text x="491.6" y="385.6" font-size="10" fill="#222" textLength="10.6" lengthAdjust="spacingAndGlyphs">55</text>
<path d="M474.8 298.4 H485.8" stroke="#000" stroke-width="1.2"/>
<path d="M474.8 363.4 H485.8" stroke="#000" stroke-width="1.2"/>
<path d="M474.8 381.9 H485.8" stroke="#000" stroke-width="1.2"/>
<text x="484.2" y="287.4" font-size="10" fill="#222" textLength="17.2" lengthAdjust="spacingAndGlyphs">kDa</text>
<text transform="translate(392.4 288.4) rotate(-60)" font-size="10" fill="#222" textLength="15.2" lengthAdjust="spacingAndGlyphs">WT</text>
<text transform="translate(411.8 288.6) rotate(-60)" font-size="10" fill="#222" textLength="43.4" lengthAdjust="spacingAndGlyphs">PIGG KO</text>
<text transform="translate(429.8 288.6) rotate(-60)" font-size="10" fill="#222" textLength="43.4" lengthAdjust="spacingAndGlyphs">PIGA KO</text>
<text transform="translate(448.6 288.6) rotate(-60)" font-size="10" fill="#222" textLength="43.6" lengthAdjust="spacingAndGlyphs">PIGN KO</text>
<text transform="translate(466.6 288.6) rotate(-60)" font-size="10" fill="#222" textLength="44.4" lengthAdjust="spacingAndGlyphs">PIGO KO</text>
<rect x="0.675" y="0.675" width="518.65" height="434.65" fill="none" stroke="#000" stroke-width="1.35"/>
</svg>
</body></html>
